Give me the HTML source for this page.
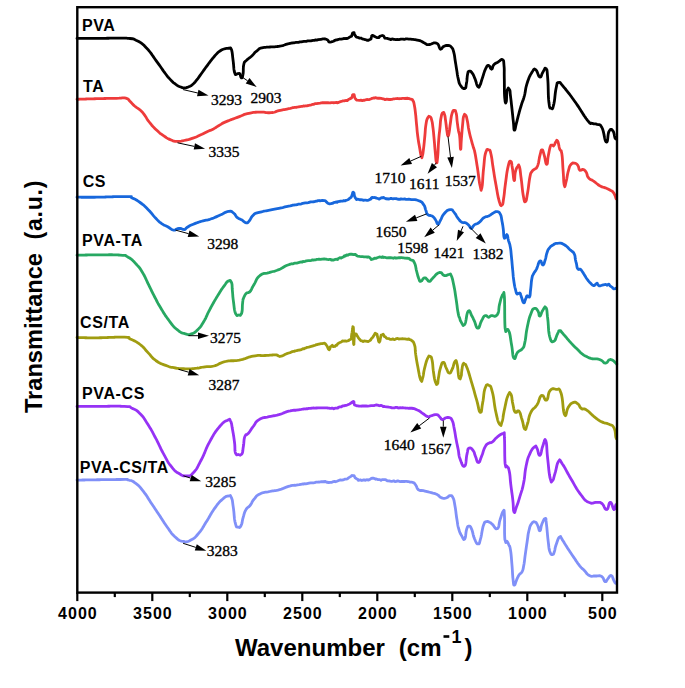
<!DOCTYPE html>
<html><head><meta charset="utf-8"><style>html,body{margin:0;padding:0;background:#fff;}svg{display:block;}</style></head><body>
<svg width="685" height="688" viewBox="0 0 685 688">
<rect x="0" y="0" width="685" height="688" fill="#fff"/>
<path d="M77.00,38.40 L77.97,38.40 L78.93,38.40 L79.88,38.40 L80.83,38.41 L81.80,38.41 L82.80,38.41 L83.84,38.42 L84.92,38.42 L86.07,38.42 L87.28,38.42 L88.58,38.42 L89.97,38.42 L91.47,38.42 L93.08,38.42 L94.82,38.41 L96.70,38.40 L98.53,38.39 L100.15,38.38 L101.58,38.36 L102.85,38.34 L104.00,38.32 L105.04,38.31 L106.00,38.29 L106.92,38.27 L107.82,38.25 L108.73,38.24 L109.68,38.22 L110.70,38.21 L111.81,38.20 L113.05,38.20 L114.43,38.20 L116.00,38.20 L118.21,38.20 L120.03,38.19 L121.53,38.18 L122.78,38.17 L123.85,38.16 L124.79,38.16 L125.68,38.18 L126.58,38.22 L127.55,38.28 L128.67,38.37 L130.00,38.50 L132.36,38.75 L133.49,38.93 L134.04,39.16 L134.66,39.54 L136.00,40.20 L137.60,40.91 L138.73,41.47 L139.66,42.03 L140.66,42.72 L142.00,43.70 L143.45,44.80 L144.20,45.50 L144.85,46.25 L146.00,47.50 L147.00,48.52 L147.63,49.14 L148.16,49.71 L148.86,50.55 L150.00,52.00 L150.90,53.18 L151.60,54.12 L152.17,54.94 L152.71,55.75 L153.32,56.65 L154.09,57.76 L155.10,59.20 L156.10,60.59 L156.82,61.61 L157.39,62.39 L157.91,63.11 L158.48,63.89 L159.20,64.91 L160.20,66.30 L161.20,67.71 L161.92,68.77 L162.49,69.62 L163.01,70.38 L163.58,71.19 L164.30,72.18 L165.30,73.50 L166.43,74.99 L167.23,76.02 L167.85,76.81 L168.47,77.54 L169.27,78.40 L170.40,79.60 L171.71,80.98 L172.58,81.88 L173.30,82.55 L174.18,83.24 L175.50,84.20 L177.13,85.33 L178.21,85.98 L179.24,86.44 L180.70,87.00 L182.35,87.65 L183.25,87.83 L184.70,87.80 L186.24,87.73 L187.25,87.47 L188.80,86.80 L190.06,86.26 L190.85,85.86 L191.64,85.28 L192.90,84.20 L193.96,83.25 L194.66,82.53 L195.24,81.84 L195.94,80.94 L197.00,79.60 L198.03,78.30 L198.68,77.43 L199.23,76.65 L199.94,75.62 L201.10,74.00 L202.01,72.73 L202.71,71.76 L203.28,70.94 L203.82,70.17 L204.43,69.32 L205.19,68.27 L206.20,66.90 L207.20,65.55 L207.92,64.56 L208.49,63.79 L209.01,63.11 L209.58,62.38 L210.30,61.45 L211.30,60.20 L212.46,58.73 L213.32,57.65 L214.00,56.79 L214.65,56.01 L215.41,55.17 L216.40,54.10 L217.91,52.51 L218.68,51.86 L220.00,51.00 L221.49,50.04 L222.51,49.54 L224.00,49.00 L225.50,48.54 L226.45,48.40 L227.60,48.30 L228.77,48.10 L229.60,48.30 L230.59,47.86 L231.50,49.60 L231.77,50.63 L231.99,51.59 L232.15,52.53 L232.29,53.49 L232.41,54.53 L232.54,55.71 L232.68,57.06 L232.87,58.64 L233.10,60.50 L233.33,62.38 L233.49,64.01 L233.62,65.43 L233.71,66.70 L233.81,67.86 L233.91,68.95 L234.05,70.02 L234.24,71.13 L234.50,72.30 L235.35,74.58 L236.50,74.30 L237.95,73.55 L239.40,73.30 L240.13,74.36 L240.53,75.80 L240.87,77.12 L241.40,77.80 L242.10,77.81 L242.51,76.85 L243.00,74.30 L243.18,73.00 L243.27,71.76 L243.30,70.57 L243.31,69.39 L243.33,68.21 L243.39,67.00 L243.54,65.74 L243.80,64.40 L244.40,62.22 L244.97,61.63 L246.30,60.50 L247.29,59.53 L248.04,58.94 L248.79,58.44 L249.76,57.73 L251.20,56.50 L252.28,55.47 L253.11,54.59 L253.78,53.81 L254.42,53.08 L255.13,52.33 L256.02,51.53 L257.20,50.60 L258.48,49.51 L258.99,48.90 L259.45,48.54 L260.58,48.22 L263.10,47.70 L264.39,47.47 L265.59,47.30 L266.74,47.17 L267.85,47.09 L268.93,47.03 L270.01,46.99 L271.10,46.95 L272.21,46.91 L273.37,46.86 L274.59,46.79 L275.89,46.67 L277.29,46.51 L278.80,46.30 L280.97,45.93 L282.49,45.59 L283.55,45.29 L284.34,45.00 L285.06,44.71 L285.90,44.41 L287.05,44.07 L288.70,43.70 L290.31,43.30 L291.34,43.02 L292.04,43.13 L292.62,42.80 L293.33,42.93 L294.39,42.75 L296.04,42.42 L298.50,42.30 L299.94,41.90 L301.30,41.90 L302.61,41.56 L303.86,41.40 L305.07,41.39 L306.25,41.42 L307.40,40.95 L308.54,40.85 L309.67,40.88 L310.81,40.88 L311.95,40.57 L313.12,40.35 L314.32,40.46 L315.56,39.90 L316.85,40.11 L318.20,39.71 L321.12,39.26 L322.82,38.96 L323.73,38.85 L324.29,39.02 L324.93,38.81 L326.10,39.24 L327.70,39.98 L328.34,40.82 L328.83,41.80 L330.00,42.10 L331.41,41.86 L332.40,41.52 L333.44,41.25 L335.00,40.33 L336.33,39.82 L336.97,39.89 L337.85,39.59 L339.90,39.02 L341.30,39.21 L342.58,38.96 L343.78,38.43 L344.93,38.62 L346.06,38.42 L347.21,38.48 L348.41,37.97 L349.70,37.01 L351.56,36.20 L352.29,33.98 L352.62,33.07 L353.30,32.73 L354.07,32.56 L354.29,34.22 L355.20,35.39 L356.06,36.71 L356.61,37.17 L357.55,37.30 L359.60,38.14 L360.97,38.05 L362.25,38.84 L363.46,39.17 L364.64,39.53 L365.80,39.71 L366.96,40.24 L368.15,40.36 L369.40,39.78 L371.01,39.01 L371.39,37.04 L371.52,36.23 L372.40,35.33 L373.69,35.80 L374.66,36.53 L375.73,37.06 L377.30,37.70 L378.80,37.67 L379.74,36.33 L380.69,35.99 L382.20,35.50 L383.46,35.91 L384.01,36.66 L384.90,38.23 L387.20,38.47 L388.59,38.82 L389.83,39.11 L390.97,39.62 L392.07,38.93 L393.18,39.24 L394.38,39.29 L395.70,39.56 L397.23,39.48 L399.00,39.53 L400.86,39.12 L402.22,39.16 L403.25,39.10 L404.09,39.29 L404.91,39.29 L405.86,38.92 L407.11,38.97 L408.80,39.08 L410.56,39.18 L411.97,39.37 L413.13,39.45 L414.14,39.53 L415.10,39.65 L416.11,39.82 L417.28,40.06 L418.70,40.40 L420.68,40.97 L421.84,41.47 L422.61,41.95 L423.39,42.48 L424.60,43.10 L426.07,44.02 L426.67,44.54 L428.50,44.70 L429.96,44.50 L431.24,44.01 L432.43,43.44 L433.63,42.97 L434.92,42.79 L436.40,43.10 L437.69,43.92 L438.49,45.03 L438.99,46.29 L439.37,47.53 L439.81,48.58 L440.50,49.30 L441.66,48.80 L443.00,46.80 L444.30,46.15 L445.39,45.71 L446.53,45.49 L448.00,45.50 L449.61,45.65 L450.49,46.13 L451.60,47.40 L452.46,48.44 L452.91,49.21 L453.26,50.33 L453.80,52.40 L454.15,53.80 L454.39,54.94 L454.56,55.94 L454.70,56.94 L454.84,58.06 L455.03,59.44 L455.30,61.20 L455.58,62.91 L455.78,64.15 L455.93,65.12 L456.07,66.00 L456.22,66.96 L456.42,68.20 L456.70,69.90 L456.97,71.63 L457.16,72.94 L457.30,73.99 L457.44,74.92 L457.61,75.90 L457.85,77.08 L458.20,78.60 L458.64,80.60 L458.90,81.93 L459.16,82.91 L459.60,83.89 L460.40,85.20 L461.57,86.91 L462.59,88.06 L463.59,88.60 L464.70,88.50 L465.56,87.93 L465.92,86.95 L466.12,85.37 L466.50,83.00 L466.77,81.49 L466.93,80.17 L467.04,78.99 L467.12,77.86 L467.21,76.75 L467.36,75.58 L467.60,74.30 L468.17,71.66 L469.10,71.10 L470.41,71.05 L472.00,72.80 L472.75,73.82 L473.24,74.65 L473.66,75.54 L474.15,76.78 L474.90,78.60 L475.48,80.11 L475.91,81.49 L476.26,82.74 L476.57,83.87 L476.90,84.89 L477.29,85.80 L477.80,86.60 L478.97,87.36 L480.00,85.20 L480.53,84.12 L480.84,83.25 L481.10,82.24 L481.49,80.80 L482.20,78.60 L482.67,77.19 L483.08,75.91 L483.44,74.74 L483.77,73.65 L484.09,72.62 L484.44,71.60 L484.82,70.58 L485.27,69.52 L485.80,68.40 L486.98,66.05 L487.65,65.38 L488.70,65.50 L489.84,66.60 L490.59,68.37 L491.60,69.20 L492.27,68.71 L492.55,67.66 L492.90,66.28 L493.80,64.80 L494.90,63.72 L495.79,63.13 L496.78,62.65 L498.20,61.90 L499.63,60.85 L500.64,59.93 L501.50,59.45 L502.50,59.70 L503.32,60.30 L503.65,61.07 L503.78,62.60 L504.00,65.50 L504.12,66.86 L504.20,67.98 L504.24,68.94 L504.26,69.83 L504.26,70.74 L504.25,71.75 L504.24,72.96 L504.24,74.44 L504.26,76.30 L504.30,78.60 L504.33,80.25 L504.35,81.79 L504.36,83.25 L504.37,84.61 L504.37,85.91 L504.38,87.15 L504.38,88.34 L504.38,89.49 L504.39,90.62 L504.41,91.73 L504.44,92.85 L504.48,93.97 L504.54,95.11 L504.61,96.28 L504.70,97.50 L505.17,101.83 L505.63,103.01 L506.20,101.90 L506.38,101.09 L506.49,100.02 L506.56,98.74 L506.60,97.31 L506.64,95.80 L506.70,94.27 L506.80,92.79 L506.96,91.41 L507.20,90.20 L508.35,88.02 L509.50,89.50 L509.88,90.29 L510.04,90.99 L510.11,91.96 L510.22,93.55 L510.50,96.10 L510.68,97.56 L510.84,98.81 L510.97,99.93 L511.09,100.98 L511.21,102.01 L511.33,103.10 L511.46,104.29 L511.61,105.67 L511.79,107.28 L512.00,109.20 L512.21,111.10 L512.38,112.69 L512.52,114.02 L512.64,115.17 L512.75,116.21 L512.85,117.21 L512.96,118.24 L513.08,119.37 L513.23,120.66 L513.40,122.20 L513.64,124.71 L513.77,126.67 L513.85,128.15 L513.94,129.19 L514.10,129.86 L514.40,130.20 L514.79,130.07 L515.09,129.25 L515.38,127.85 L515.76,125.97 L516.30,123.70 L516.69,122.21 L516.98,121.08 L517.20,120.16 L517.41,119.26 L517.66,118.22 L518.01,116.86 L518.50,115.00 L518.95,113.32 L519.31,111.99 L519.61,110.89 L519.88,109.90 L520.16,108.91 L520.49,107.81 L520.89,106.48 L521.40,104.80 L521.97,103.04 L522.38,101.89 L522.70,101.09 L523.00,100.38 L523.32,99.49 L523.73,98.15 L524.30,96.10 L524.67,94.63 L524.95,93.35 L525.16,92.23 L525.33,91.21 L525.48,90.25 L525.63,89.29 L525.80,88.30 L526.02,87.22 L526.31,86.01 L526.70,84.62 L527.20,83.00 L527.84,81.06 L528.40,79.45 L528.89,78.12 L529.35,76.99 L529.81,76.00 L530.28,75.08 L530.81,74.17 L531.40,73.20 L532.10,72.10 L533.58,69.61 L534.36,68.95 L535.70,69.70 L536.58,70.65 L537.25,72.03 L537.80,73.60 L538.34,75.11 L538.97,76.33 L539.80,77.00 L540.86,76.82 L541.45,75.64 L541.99,73.91 L542.90,72.10 L544.15,69.80 L544.99,68.21 L546.00,68.50 L546.41,69.01 L546.70,69.43 L546.90,69.91 L547.04,70.58 L547.16,71.60 L547.29,73.11 L547.46,75.26 L547.70,78.20 L547.81,79.54 L547.90,80.85 L547.97,82.13 L548.03,83.40 L548.08,84.64 L548.12,85.86 L548.15,87.07 L548.18,88.27 L548.21,89.45 L548.23,90.62 L548.26,91.79 L548.29,92.95 L548.32,94.10 L548.36,95.26 L548.42,96.42 L548.48,97.58 L548.56,98.74 L548.65,99.92 L548.77,101.10 L548.90,102.30 L549.40,105.94 L549.79,107.70 L550.18,108.22 L550.65,108.20 L551.30,108.30 L552.20,108.87 L552.78,108.21 L553.70,104.70 L553.96,103.53 L554.18,102.35 L554.37,101.18 L554.54,99.99 L554.69,98.81 L554.82,97.62 L554.95,96.42 L555.08,95.22 L555.21,94.00 L555.36,92.78 L555.53,91.55 L555.72,90.31 L555.94,89.06 L556.20,87.80 L556.86,84.52 L557.17,83.05 L557.60,82.63 L558.60,82.50 L559.41,82.30 L559.83,82.28 L560.33,82.78 L561.36,84.12 L563.40,86.60 L564.20,87.55 L564.94,88.42 L565.62,89.24 L566.26,90.02 L566.87,90.77 L567.47,91.52 L568.07,92.28 L568.67,93.06 L569.30,93.89 L569.96,94.78 L570.67,95.74 L571.44,96.80 L572.29,97.97 L573.22,99.26 L574.26,100.70 L575.40,102.30 L576.42,103.75 L577.36,105.10 L578.21,106.36 L579.00,107.55 L579.72,108.66 L580.39,109.71 L581.02,110.70 L581.61,111.65 L582.17,112.56 L582.72,113.44 L583.25,114.29 L583.79,115.13 L584.33,115.96 L584.90,116.79 L585.49,117.64 L586.11,118.50 L586.78,119.38 L587.50,120.30 L589.79,123.00 L590.63,123.55 L591.10,123.25 L592.30,123.40 L593.77,123.86 L594.70,123.90 L595.63,123.94 L597.10,124.40 L598.59,124.69 L599.54,124.60 L600.48,125.19 L601.90,127.50 L602.47,128.75 L602.94,130.14 L603.35,131.61 L603.70,133.13 L604.02,134.65 L604.30,136.14 L604.57,137.55 L604.85,138.85 L605.15,139.98 L605.48,140.91 L605.86,141.60 L606.30,142.00 L606.84,141.99 L607.23,141.38 L607.49,140.31 L607.69,138.89 L607.85,137.27 L608.03,135.56 L608.27,133.89 L608.61,132.40 L609.10,131.20 L610.47,129.30 L611.50,129.31 L612.80,130.70 L613.47,131.80 L613.93,133.12 L614.24,134.54 L614.50,135.97 L614.79,137.29 L615.20,138.40 L616.09,138.97 L616.50,138.00" fill="none" stroke="#000000" stroke-width="2.8" stroke-linejoin="round" stroke-linecap="round"/>
<path d="M77.00,99.30 L77.97,99.27 L78.92,99.24 L79.87,99.21 L80.82,99.18 L81.78,99.14 L82.77,99.11 L83.80,99.08 L84.88,99.04 L86.02,99.00 L87.23,98.96 L88.53,98.93 L89.93,98.88 L91.43,98.84 L93.05,98.80 L94.81,98.75 L96.70,98.70 L98.57,98.65 L100.24,98.61 L101.75,98.58 L103.12,98.54 L104.36,98.52 L105.50,98.49 L106.57,98.47 L107.58,98.45 L108.56,98.43 L109.53,98.41 L110.51,98.40 L111.53,98.38 L112.60,98.36 L113.76,98.34 L115.02,98.32 L116.40,98.30 L119.17,98.21 L121.01,98.07 L122.20,97.93 L123.00,97.83 L123.68,97.81 L124.53,97.92 L125.80,98.20 L127.71,98.81 L128.50,99.45 L129.04,100.31 L130.20,101.60 L131.30,102.63 L131.98,103.38 L132.55,104.05 L133.32,104.85 L134.60,106.00 L135.79,106.95 L136.71,107.59 L137.50,108.08 L138.29,108.59 L139.21,109.27 L140.40,110.30 L141.68,111.49 L142.45,112.28 L143.02,112.98 L143.70,113.91 L144.80,115.40 L145.72,116.70 L146.29,117.63 L146.71,118.41 L147.19,119.25 L147.95,120.38 L149.20,122.00 L150.14,123.18 L150.93,124.15 L151.61,124.98 L152.25,125.72 L152.88,126.42 L153.57,127.14 L154.37,127.94 L155.33,128.88 L156.50,130.00 L157.93,131.35 L158.97,132.32 L159.78,133.04 L160.52,133.63 L161.33,134.21 L162.37,134.93 L163.80,135.90 L165.45,137.03 L166.65,137.82 L167.60,138.40 L168.52,138.88 L169.62,139.37 L171.10,140.00 L172.99,140.82 L174.00,141.20 L175.01,141.33 L176.90,141.40 L178.36,141.44 L179.39,141.42 L180.25,141.33 L181.18,141.15 L182.41,140.88 L184.20,140.50 L185.81,140.17 L187.07,139.89 L188.11,139.64 L189.09,139.37 L190.13,139.05 L191.39,138.64 L193.00,138.10 L194.76,137.50 L195.94,137.07 L196.80,136.72 L197.63,136.34 L198.71,135.83 L200.30,135.10 L201.95,134.34 L203.15,133.75 L204.10,133.26 L205.02,132.78 L206.12,132.22 L207.60,131.50 L209.23,130.76 L210.20,130.38 L210.94,130.10 L211.86,129.69 L213.40,128.90 L214.81,128.12 L215.86,127.50 L216.72,126.94 L217.58,126.38 L218.61,125.72 L220.00,124.90 L221.34,124.08 L221.89,123.68 L222.33,123.37 L223.34,122.88 L225.60,121.90 L226.85,121.37 L228.02,120.89 L229.12,120.45 L230.19,120.03 L231.23,119.63 L232.27,119.24 L233.32,118.85 L234.40,118.45 L235.53,118.04 L236.73,117.60 L238.01,117.12 L239.40,116.60 L241.38,115.81 L242.58,115.28 L243.28,114.92 L243.81,114.66 L244.45,114.42 L245.51,114.12 L247.30,113.70 L248.88,113.34 L250.18,113.04 L251.29,112.81 L252.30,112.63 L253.31,112.48 L254.40,112.37 L255.67,112.27 L257.20,112.19 L259.10,112.10 L261.00,112.06 L262.55,112.11 L263.83,112.22 L264.93,112.36 L265.96,112.52 L266.98,112.65 L268.11,112.74 L269.42,112.77 L271.00,112.70 L273.07,112.50 L274.31,112.25 L275.10,111.96 L275.85,111.61 L276.95,111.19 L278.80,110.70 L280.37,110.35 L281.60,110.08 L282.62,109.87 L283.55,109.69 L284.50,109.51 L285.60,109.30 L286.96,109.04 L288.70,108.70 L290.41,108.39 L291.71,108.01 L292.72,107.70 L293.60,107.66 L294.48,107.47 L295.49,107.35 L296.79,107.25 L298.50,106.87 L300.22,106.53 L301.52,106.38 L302.56,106.27 L303.45,105.95 L304.34,106.15 L305.38,105.98 L306.68,105.82 L308.40,105.50 L310.14,105.04 L311.48,104.77 L312.56,104.41 L313.50,104.37 L314.41,103.95 L315.42,103.73 L316.64,103.55 L318.20,103.28 L320.11,103.07 L321.35,102.82 L322.24,102.73 L323.11,102.75 L324.29,102.71 L326.10,102.75 L327.81,102.60 L329.18,102.91 L330.33,102.90 L331.36,102.62 L332.41,102.72 L333.58,102.77 L335.00,102.70 L336.77,102.40 L337.36,102.80 L338.00,102.67 L339.90,101.78 L341.30,101.48 L342.58,100.97 L343.78,100.79 L344.93,100.76 L346.06,100.46 L347.21,100.52 L348.41,99.59 L349.70,98.87 L351.55,97.98 L352.25,96.18 L352.58,94.76 L353.30,94.53 L354.09,94.57 L354.41,96.04 L354.75,97.78 L355.60,99.05 L356.57,100.03 L357.30,100.12 L359.60,100.31 L360.93,100.17 L362.17,100.55 L363.35,100.27 L364.50,100.30 L365.65,99.79 L366.83,99.50 L368.07,99.67 L369.40,99.54 L371.37,98.80 L371.78,98.27 L373.40,98.02 L374.78,97.98 L375.89,97.74 L376.91,98.13 L378.02,98.25 L379.39,98.26 L381.20,98.47 L382.80,98.81 L383.70,98.92 L384.35,99.31 L385.17,99.55 L386.61,99.20 L389.10,99.51 L390.51,99.51 L391.85,99.43 L393.11,98.96 L394.33,98.78 L395.50,98.71 L396.64,98.60 L397.76,98.52 L398.88,98.73 L400.02,98.71 L401.17,98.63 L402.36,98.45 L403.60,98.47 L404.90,98.50 L407.96,98.26 L409.20,98.54 L409.77,98.84 L410.80,99.20 L412.42,99.71 L413.10,101.00 L413.68,102.05 L413.91,102.93 L414.30,105.10 L414.57,106.48 L414.76,107.51 L414.91,108.45 L415.06,109.56 L415.24,111.09 L415.50,113.30 L415.68,114.88 L415.82,116.18 L415.92,117.28 L416.01,118.27 L416.09,119.26 L416.18,120.32 L416.28,121.55 L416.42,123.05 L416.60,124.90 L416.78,126.73 L416.91,128.18 L417.01,129.35 L417.10,130.34 L417.18,131.27 L417.28,132.25 L417.41,133.37 L417.58,134.75 L417.80,136.50 L418.06,138.43 L418.26,139.88 L418.43,141.02 L418.59,141.98 L418.76,142.91 L418.95,143.96 L419.19,145.27 L419.50,147.00 L419.85,149.06 L420.13,150.75 L420.36,152.15 L420.56,153.33 L420.77,154.37 L421.01,155.33 L421.30,156.30 L421.91,157.69 L422.40,155.70 L422.66,154.73 L422.84,153.90 L422.99,153.00 L423.14,151.86 L423.33,150.29 L423.60,148.10 L423.79,146.56 L423.94,145.28 L424.06,144.19 L424.16,143.19 L424.26,142.20 L424.36,141.12 L424.47,139.87 L424.62,138.36 L424.80,136.50 L424.97,134.64 L425.10,133.11 L425.19,131.85 L425.26,130.75 L425.32,129.74 L425.41,128.74 L425.52,127.65 L425.68,126.40 L425.90,124.90 L426.23,122.81 L426.47,121.37 L426.68,120.36 L426.92,119.58 L427.24,118.83 L427.70,117.90 L428.86,116.25 L430.00,116.70 L430.74,117.26 L431.15,118.18 L431.70,120.20 L432.06,121.53 L432.27,122.45 L432.42,123.40 L432.60,124.84 L432.90,127.20 L433.09,128.69 L433.24,129.91 L433.36,130.97 L433.46,131.94 L433.56,132.92 L433.66,134.00 L433.77,135.28 L433.92,136.85 L434.10,138.80 L434.26,140.57 L434.39,142.03 L434.49,143.26 L434.58,144.33 L434.65,145.31 L434.72,146.28 L434.81,147.32 L434.91,148.51 L435.04,149.91 L435.20,151.60 L435.40,153.77 L435.56,155.64 L435.68,157.24 L435.79,158.60 L435.90,159.74 L436.03,160.68 L436.19,161.46 L436.40,162.10 L436.77,162.85 L437.01,162.54 L437.24,160.84 L437.60,157.40 L437.72,156.17 L437.82,154.99 L437.91,153.84 L437.98,152.73 L438.04,151.62 L438.10,150.51 L438.15,149.39 L438.20,148.24 L438.26,147.05 L438.32,145.80 L438.39,144.49 L438.48,143.09 L438.58,141.60 L438.70,140.00 L438.88,137.76 L439.03,136.10 L439.15,134.87 L439.25,133.92 L439.35,133.12 L439.45,132.31 L439.57,131.35 L439.72,130.10 L439.90,128.40 L440.09,126.43 L440.22,124.86 L440.31,123.59 L440.39,122.51 L440.47,121.51 L440.59,120.48 L440.76,119.31 L441.00,117.90 L441.48,115.45 L441.84,114.08 L442.23,113.32 L442.80,112.70 L443.71,112.33 L444.50,114.40 L444.86,115.60 L445.07,116.61 L445.22,117.73 L445.40,119.23 L445.70,121.40 L445.94,123.08 L446.11,124.47 L446.25,125.67 L446.37,126.78 L446.51,127.93 L446.67,129.20 L446.90,130.70 L447.24,133.10 L447.45,134.63 L447.66,135.50 L448.00,135.90 L448.45,135.73 L448.75,134.45 L449.20,131.90 L449.44,130.51 L449.59,129.43 L449.69,128.44 L449.81,127.31 L449.99,125.80 L450.30,123.70 L450.55,121.98 L450.75,120.48 L450.92,119.17 L451.08,117.98 L451.25,116.85 L451.47,115.73 L451.74,114.57 L452.10,113.30 L452.94,110.93 L453.56,110.28 L454.40,110.30 L455.42,110.57 L456.20,113.30 L456.47,114.60 L456.65,115.77 L456.76,116.88 L456.85,118.02 L456.95,119.30 L457.09,120.80 L457.30,122.60 L457.56,124.55 L457.74,125.94 L457.89,127.00 L458.04,127.98 L458.23,129.14 L458.50,130.70 L458.88,132.47 L459.13,133.13 L459.37,134.02 L459.70,136.50 L459.85,138.05 L459.97,139.68 L460.06,141.34 L460.13,142.97 L460.19,144.53 L460.25,145.96 L460.31,147.20 L460.39,148.21 L460.48,148.93 L460.60,149.30 L460.74,149.29 L460.84,148.83 L460.91,147.96 L460.97,146.72 L461.03,145.14 L461.11,143.27 L461.23,141.14 L461.40,138.80 L461.53,137.15 L461.65,135.70 L461.75,134.42 L461.84,133.27 L461.93,132.19 L462.01,131.15 L462.10,130.10 L462.20,128.99 L462.31,127.78 L462.45,126.44 L462.60,124.90 L462.81,122.66 L462.95,121.00 L463.05,119.78 L463.14,118.83 L463.25,118.03 L463.43,117.20 L463.70,116.20 L464.54,114.21 L465.50,115.00 L466.03,115.67 L466.35,116.43 L466.67,117.77 L467.20,120.20 L467.50,121.64 L467.72,122.86 L467.89,123.97 L468.04,125.04 L468.20,126.16 L468.39,127.42 L468.65,128.90 L469.00,130.70 L469.41,132.63 L469.72,134.04 L469.98,135.12 L470.22,136.05 L470.50,137.05 L470.84,138.30 L471.30,140.00 L471.76,141.73 L472.12,143.05 L472.42,144.08 L472.68,144.96 L472.94,145.84 L473.23,146.84 L473.60,148.10 L474.13,149.56 L474.31,149.79 L474.90,152.60 L475.13,153.78 L475.33,154.85 L475.51,155.84 L475.67,156.79 L475.83,157.72 L475.99,158.66 L476.15,159.65 L476.32,160.72 L476.50,161.90 L476.71,163.21 L476.94,164.70 L477.20,166.38 L477.50,168.30 L477.78,170.12 L478.02,171.79 L478.23,173.33 L478.42,174.75 L478.58,176.06 L478.74,177.29 L478.88,178.45 L479.02,179.55 L479.16,180.61 L479.31,181.64 L479.48,182.66 L479.66,183.68 L479.87,184.72 L480.10,185.80 L481.09,190.32 L481.90,187.50 L482.06,186.62 L482.20,185.72 L482.32,184.79 L482.42,183.84 L482.50,182.85 L482.58,181.83 L482.65,180.76 L482.72,179.64 L482.79,178.47 L482.86,177.23 L482.94,175.94 L483.04,174.57 L483.15,173.13 L483.27,171.61 L483.42,170.00 L483.60,168.30 L483.81,166.29 L483.98,164.52 L484.13,162.96 L484.24,161.60 L484.35,160.39 L484.45,159.30 L484.55,158.30 L484.67,157.37 L484.80,156.47 L484.96,155.58 L485.16,154.65 L485.40,153.67 L485.70,152.60 L486.84,149.66 L487.76,149.39 L488.90,150.00 L489.82,150.23 L490.26,151.12 L491.00,154.30 L491.28,155.55 L491.51,156.66 L491.69,157.68 L491.84,158.66 L491.98,159.65 L492.12,160.69 L492.26,161.83 L492.43,163.11 L492.63,164.58 L492.89,166.30 L493.20,168.30 L493.47,169.98 L493.69,171.39 L493.88,172.58 L494.03,173.61 L494.17,174.52 L494.30,175.38 L494.44,176.23 L494.58,177.11 L494.75,178.10 L494.94,179.22 L495.17,180.55 L495.46,182.12 L495.80,184.00 L496.13,185.81 L496.42,187.46 L496.68,188.97 L496.92,190.36 L497.13,191.64 L497.34,192.84 L497.54,193.97 L497.74,195.05 L497.95,196.10 L498.17,197.13 L498.41,198.17 L498.67,199.23 L498.97,200.34 L499.30,201.50 L500.47,205.10 L501.15,205.75 L502.00,205.00 L502.47,204.55 L502.76,204.01 L502.95,203.25 L503.12,202.10 L503.34,200.40 L503.70,198.00 L503.92,196.60 L504.08,195.41 L504.21,194.38 L504.32,193.43 L504.41,192.51 L504.50,191.55 L504.60,190.49 L504.73,189.27 L504.90,187.82 L505.12,186.09 L505.40,184.00 L505.64,182.29 L505.84,180.72 L506.03,179.28 L506.20,177.95 L506.36,176.71 L506.51,175.54 L506.66,174.43 L506.81,173.35 L506.98,172.29 L507.15,171.23 L507.35,170.15 L507.57,169.03 L507.82,167.85 L508.10,166.60 L508.94,163.15 L509.50,161.51 L510.01,161.09 L510.70,161.30 L511.16,161.62 L511.44,162.18 L511.63,163.05 L511.80,164.31 L512.03,166.04 L512.40,168.30 L512.66,169.86 L512.87,171.45 L513.05,173.02 L513.21,174.54 L513.35,175.97 L513.49,177.28 L513.63,178.42 L513.80,179.36 L513.98,180.07 L514.20,180.50 L514.47,180.51 L514.62,179.83 L514.71,178.63 L514.79,177.07 L514.89,175.31 L515.08,173.50 L515.40,171.80 L516.00,169.62 L516.50,168.33 L517.02,167.48 L517.70,166.60 L518.60,164.86 L519.40,166.60 L519.65,167.52 L519.84,168.36 L520.00,169.18 L520.13,170.03 L520.25,170.96 L520.37,172.03 L520.52,173.30 L520.69,174.81 L520.92,176.63 L521.20,178.80 L521.41,180.43 L521.60,181.93 L521.76,183.33 L521.90,184.64 L522.03,185.88 L522.15,187.06 L522.27,188.19 L522.39,189.30 L522.51,190.39 L522.65,191.48 L522.80,192.60 L522.97,193.74 L523.17,194.94 L523.40,196.20 L524.05,199.71 L524.46,201.47 L524.86,201.92 L525.50,201.50 L525.91,201.06 L526.20,200.49 L526.43,199.70 L526.63,198.61 L526.87,197.14 L527.17,195.20 L527.60,192.70 L527.85,191.24 L528.07,189.87 L528.26,188.58 L528.42,187.36 L528.57,186.18 L528.71,185.04 L528.85,183.92 L528.98,182.82 L529.13,181.71 L529.29,180.59 L529.46,179.44 L529.67,178.25 L529.90,177.00 L530.48,174.15 L530.78,173.13 L531.09,172.77 L531.70,171.90 L532.80,170.47 L534.20,169.40 L535.40,168.70 L536.30,168.29 L537.50,166.10 L537.95,164.87 L538.30,163.70 L538.57,162.56 L538.78,161.43 L538.97,160.29 L539.16,159.12 L539.38,157.89 L539.65,156.59 L540.00,155.20 L540.66,152.52 L541.03,150.87 L541.38,150.03 L542.00,149.80 L542.64,150.10 L543.05,151.04 L543.49,152.71 L544.20,155.20 L544.67,156.94 L545.05,158.73 L545.36,160.46 L545.64,162.00 L545.93,163.26 L546.27,164.09 L546.70,164.40 L547.09,164.16 L547.33,163.47 L547.49,162.39 L547.61,160.97 L547.77,159.26 L548.01,157.32 L548.40,155.20 L548.77,153.40 L549.08,151.82 L549.33,150.43 L549.57,149.20 L549.82,148.09 L550.10,147.08 L550.46,146.12 L550.90,145.20 L552.15,145.02 L553.40,146.00 L554.20,145.15 L554.73,144.06 L555.22,142.89 L555.90,141.80 L556.78,140.15 L557.60,141.00 L557.99,141.91 L558.30,142.94 L558.55,144.06 L558.79,145.26 L559.06,146.55 L559.38,147.90 L559.80,149.30 L560.62,150.63 L561.14,150.66 L561.80,153.50 L561.97,154.66 L562.11,155.75 L562.23,156.79 L562.33,157.80 L562.40,158.79 L562.47,159.79 L562.53,160.82 L562.59,161.89 L562.64,163.02 L562.70,164.24 L562.78,165.56 L562.86,166.99 L562.97,168.57 L563.10,170.30 L563.25,172.32 L563.37,174.14 L563.46,175.78 L563.54,177.26 L563.60,178.60 L563.66,179.81 L563.72,180.91 L563.79,181.91 L563.88,182.83 L563.99,183.69 L564.13,184.51 L564.30,185.30 L564.84,186.72 L565.23,185.33 L566.00,182.00 L566.34,180.70 L566.61,179.45 L566.85,178.23 L567.06,177.02 L567.28,175.79 L567.51,174.53 L567.78,173.21 L568.10,171.81 L568.50,170.30 L569.12,168.07 L569.51,166.74 L569.84,165.94 L570.27,165.29 L571.00,164.40 L572.56,163.01 L574.30,163.20 L575.65,163.39 L576.56,163.89 L577.70,165.20 L578.46,166.64 L578.80,168.04 L579.12,169.30 L579.80,170.30 L581.13,170.11 L582.70,169.40 L583.95,169.74 L584.82,170.35 L586.00,171.90 L586.66,173.14 L586.96,174.24 L587.19,175.31 L587.61,176.46 L588.50,177.80 L589.51,178.87 L590.26,179.38 L591.03,179.69 L592.06,180.14 L593.60,181.10 L594.97,182.11 L596.04,182.98 L596.96,183.76 L597.88,184.50 L598.94,185.26 L600.30,186.10 L602.02,186.96 L602.97,187.20 L603.83,187.31 L605.30,187.80 L606.89,188.48 L607.97,188.97 L608.96,189.50 L610.30,190.30 L611.80,191.04 L612.55,191.45 L613.60,192.80 L614.39,194.12 L614.96,195.39 L615.38,196.59 L615.73,197.70 L616.10,198.70" fill="none" stroke="#EE3B3B" stroke-width="2.8" stroke-linejoin="round" stroke-linecap="round"/>
<path d="M77.00,197.20 L77.94,197.20 L78.82,197.21 L79.64,197.21 L80.45,197.22 L81.25,197.23 L82.08,197.24 L82.95,197.25 L83.89,197.26 L84.92,197.27 L86.07,197.27 L87.36,197.27 L88.81,197.27 L90.45,197.26 L92.29,197.25 L94.37,197.23 L96.70,197.20 L98.31,197.18 L99.86,197.15 L101.36,197.12 L102.80,197.09 L104.19,197.05 L105.54,197.01 L106.85,196.97 L108.11,196.93 L109.35,196.88 L110.55,196.84 L111.73,196.80 L112.88,196.76 L114.01,196.72 L115.13,196.69 L116.24,196.65 L117.34,196.63 L118.44,196.60 L119.53,196.58 L120.63,196.57 L121.73,196.56 L122.85,196.56 L123.98,196.56 L125.13,196.58 L126.30,196.60 L130.20,196.68 L131.41,196.73 L131.26,196.89 L131.08,197.27 L132.20,198.00 L133.58,198.59 L134.64,199.05 L135.53,199.47 L136.38,199.95 L137.33,200.55 L138.53,201.38 L140.10,202.50 L141.48,203.50 L142.52,204.27 L143.35,204.91 L144.06,205.51 L144.77,206.17 L145.59,206.97 L146.63,208.02 L148.00,209.40 L149.25,210.69 L150.25,211.79 L151.07,212.74 L151.77,213.60 L152.42,214.42 L153.08,215.25 L153.82,216.14 L154.71,217.14 L155.80,218.30 L157.29,219.85 L158.25,220.85 L158.93,221.52 L159.57,222.06 L160.41,222.68 L161.70,223.60 L163.24,224.64 L164.27,225.21 L165.13,225.58 L166.16,226.02 L167.70,226.80 L169.28,227.76 L170.40,228.56 L171.31,229.22 L172.29,229.73 L173.60,230.10 L175.30,230.05 L176.13,229.34 L177.50,228.70 L179.06,228.47 L180.11,228.50 L181.50,228.70 L183.05,229.45 L184.40,229.70 L185.35,229.20 L185.92,228.41 L187.40,227.20 L188.52,226.49 L189.30,226.00 L190.10,225.57 L191.31,225.03 L193.30,224.20 L194.74,223.62 L195.98,223.13 L197.07,222.72 L198.11,222.35 L199.16,222.00 L200.29,221.64 L201.58,221.25 L203.10,220.80 L205.08,220.28 L206.13,220.13 L206.87,220.09 L207.92,219.89 L209.90,219.30 L211.39,218.79 L212.60,218.35 L213.63,217.95 L214.59,217.54 L215.57,217.10 L216.69,216.61 L218.03,216.02 L219.70,215.30 L221.36,214.55 L222.68,213.89 L223.74,213.30 L224.64,212.79 L225.48,212.35 L226.36,211.97 L227.37,211.66 L228.60,211.40 L230.59,211.16 L231.55,211.34 L232.26,211.95 L233.50,213.00 L234.60,213.96 L235.28,214.87 L235.79,215.76 L236.41,216.69 L237.40,217.70 L238.85,218.71 L239.78,218.97 L241.40,219.70 L242.87,220.72 L243.95,221.65 L244.98,222.38 L246.30,222.80 L247.61,222.86 L248.17,222.27 L249.30,220.80 L250.16,219.68 L250.72,218.65 L251.23,217.63 L251.97,216.54 L253.20,215.30 L254.16,214.31 L254.44,213.84 L254.83,213.57 L256.12,213.19 L259.10,212.40 L260.36,212.07 L261.58,211.77 L262.78,211.49 L263.95,211.23 L265.10,211.00 L266.25,210.77 L267.40,210.55 L268.55,210.34 L269.71,210.13 L270.90,209.92 L272.11,209.70 L273.35,209.48 L274.64,209.24 L275.97,208.98 L277.35,208.70 L278.80,208.40 L281.17,207.88 L282.57,207.55 L283.32,207.35 L283.75,207.21 L284.18,207.08 L284.93,206.89 L286.33,206.58 L288.70,206.10 L290.12,205.93 L291.45,205.54 L292.68,205.17 L293.85,205.21 L294.97,204.79 L296.05,204.80 L297.11,204.68 L298.16,204.22 L299.23,204.03 L300.32,204.08 L301.46,203.78 L302.66,203.32 L303.94,203.08 L305.31,202.86 L306.79,202.95 L308.40,202.64 L310.63,201.96 L312.48,201.95 L314.02,201.75 L315.30,201.38 L316.39,201.05 L317.34,200.99 L318.22,200.68 L319.09,200.52 L320.00,200.86 L321.02,200.64 L322.20,200.51 L324.90,200.63 L325.32,200.75 L326.10,201.67 L327.17,202.61 L327.68,203.23 L329.10,203.79 L330.35,203.74 L331.37,203.49 L332.36,203.45 L333.51,202.72 L335.00,202.43 L336.43,201.83 L337.06,202.39 L337.89,201.69 L339.90,201.26 L341.30,201.07 L342.58,201.17 L343.78,200.60 L344.93,200.91 L346.06,200.32 L347.21,200.02 L348.41,199.49 L349.70,198.27 L351.11,197.34 L351.90,195.71 L352.29,194.19 L352.51,193.73 L352.77,192.31 L353.30,192.18 L353.98,192.87 L354.17,194.15 L354.40,195.80 L355.20,197.72 L356.06,198.83 L356.61,199.51 L357.55,199.09 L359.60,199.75 L360.97,199.65 L362.25,199.81 L363.46,200.35 L364.64,200.15 L365.80,200.18 L366.96,200.28 L368.15,200.28 L369.40,199.65 L371.11,198.95 L371.21,197.90 L372.40,197.31 L373.88,197.52 L375.22,197.63 L376.50,198.16 L377.83,198.51 L379.30,199.10 L380.75,198.18 L382.20,197.64 L383.24,197.79 L383.71,197.42 L384.36,198.03 L385.91,198.75 L389.10,199.01 L390.40,198.46 L391.66,198.52 L392.88,198.86 L394.06,198.56 L395.22,198.73 L396.37,198.60 L397.51,199.15 L398.65,199.26 L399.80,199.36 L400.97,198.86 L402.16,199.13 L403.39,199.13 L404.66,198.93 L405.98,199.32 L407.36,199.42 L408.80,199.17 L411.33,199.66 L413.12,199.55 L414.36,199.60 L415.23,199.67 L415.91,199.78 L416.60,199.96 L417.47,200.26 L418.70,200.70 L420.55,201.42 L421.60,202.00 L422.22,202.61 L422.76,203.42 L423.60,204.60 L424.54,206.01 L424.89,207.00 L425.10,208.04 L425.60,209.60 L426.18,211.26 L426.51,212.45 L426.89,213.44 L427.60,214.50 L428.95,215.33 L430.50,215.50 L432.00,215.97 L433.50,217.10 L434.45,218.17 L435.09,219.12 L435.66,220.14 L436.40,221.40 L437.25,223.67 L438.00,224.30 L438.72,223.81 L439.27,222.63 L440.40,220.40 L441.09,219.09 L441.58,217.97 L442.00,216.95 L442.50,215.93 L443.22,214.81 L444.30,213.50 L445.66,212.01 L446.75,210.96 L447.74,210.26 L448.82,209.83 L450.20,209.60 L451.64,209.61 L452.40,210.07 L453.06,211.02 L454.20,212.50 L455.21,213.76 L455.88,214.83 L456.44,215.86 L457.10,217.00 L458.10,218.40 L459.34,219.99 L460.18,220.98 L460.95,221.69 L462.00,222.40 L463.45,222.73 L464.60,222.50 L465.81,222.87 L467.00,223.70 L468.30,224.78 L469.50,226.10 L470.41,227.90 L471.40,228.50 L472.26,227.78 L472.92,226.47 L474.30,224.90 L475.56,224.12 L476.51,223.82 L477.56,223.46 L479.10,222.50 L480.34,221.43 L481.16,220.48 L481.84,219.59 L482.66,218.68 L483.90,217.70 L485.37,216.88 L486.30,216.68 L487.23,216.56 L488.70,216.00 L490.21,215.14 L491.22,214.40 L492.17,213.69 L493.50,212.90 L495.03,212.01 L495.86,211.61 L497.10,211.70 L498.45,211.90 L499.29,212.41 L500.30,214.10 L500.83,215.26 L501.15,216.25 L501.35,217.22 L501.51,218.30 L501.70,219.61 L502.00,221.30 L502.31,222.85 L502.51,223.87 L502.65,224.65 L502.78,225.48 L502.94,226.67 L503.20,228.50 L503.40,230.14 L503.52,231.69 L503.61,233.12 L503.68,234.43 L503.77,235.60 L503.90,236.63 L504.10,237.50 L504.40,238.20 L505.21,237.85 L505.91,235.61 L506.80,234.60 L507.31,235.15 L507.60,236.04 L507.81,237.24 L508.07,238.77 L508.50,240.60 L508.97,242.11 L509.31,242.99 L509.59,243.76 L509.90,244.93 L510.30,247.00 L510.55,248.48 L510.74,249.64 L510.86,250.63 L510.96,251.56 L511.05,252.57 L511.16,253.79 L511.30,255.36 L511.50,257.40 L511.67,259.09 L511.81,260.51 L511.93,261.72 L512.02,262.79 L512.11,263.79 L512.20,264.79 L512.29,265.86 L512.40,267.08 L512.53,268.50 L512.70,270.20 L512.89,272.22 L513.02,273.72 L513.11,274.86 L513.19,275.80 L513.27,276.70 L513.39,277.71 L513.56,278.99 L513.80,280.70 L514.09,282.69 L514.33,284.23 L514.54,285.45 L514.74,286.50 L514.97,287.52 L515.25,288.64 L515.60,290.00 L516.21,292.48 L516.58,293.49 L517.30,294.10 L518.50,293.50 L519.70,292.90 L520.39,293.72 L520.73,294.94 L521.40,297.00 L521.94,298.56 L522.36,300.01 L522.73,301.25 L523.14,302.21 L523.70,302.80 L524.45,302.58 L524.86,301.17 L525.50,299.30 L526.12,297.70 L526.49,296.57 L527.20,295.80 L528.40,296.87 L529.50,297.00 L529.87,296.09 L530.08,295.15 L530.21,294.06 L530.31,292.72 L530.45,291.00 L530.70,288.80 L530.90,287.09 L531.05,285.65 L531.16,284.39 L531.25,283.25 L531.35,282.15 L531.48,281.03 L531.65,279.80 L531.90,278.40 L532.32,276.32 L532.58,275.47 L532.93,274.91 L533.60,273.70 L534.33,272.41 L534.87,271.75 L535.50,270.91 L536.50,269.10 L537.14,267.63 L537.64,266.17 L538.06,264.78 L538.44,263.51 L538.86,262.41 L539.36,261.52 L540.00,260.90 L540.98,261.12 L541.57,262.65 L542.10,264.33 L542.90,265.00 L543.69,264.52 L544.16,263.51 L544.57,261.94 L545.20,259.80 L545.64,258.37 L545.91,257.23 L546.10,256.25 L546.29,255.28 L546.56,254.18 L547.00,252.80 L547.58,251.05 L547.92,250.09 L548.37,249.31 L549.30,248.10 L550.36,246.84 L551.18,246.07 L552.09,245.47 L553.40,244.70 L554.80,243.80 L555.66,243.44 L557.40,243.30 L558.71,243.17 L559.65,243.03 L560.54,243.05 L561.68,243.39 L563.40,244.20 L564.76,244.98 L565.86,245.75 L566.80,246.53 L567.67,247.34 L568.53,248.21 L569.48,249.16 L570.60,250.20 L572.19,251.47 L572.99,251.98 L573.49,252.50 L574.20,253.80 L574.78,255.18 L575.04,256.30 L575.14,257.35 L575.24,258.52 L575.50,260.00 L575.96,261.92 L576.24,262.94 L576.60,264.40 L576.86,265.98 L576.96,266.94 L577.30,268.00 L577.98,269.15 L578.80,269.50 L579.43,269.19 L580.20,269.10 L581.22,270.00 L582.40,271.70 L583.19,272.89 L583.69,273.79 L584.60,275.30 L585.41,276.60 L585.98,277.53 L586.59,278.45 L587.50,279.70 L588.59,281.12 L589.29,281.91 L590.40,283.00 L591.59,284.23 L592.40,284.98 L593.40,285.50 L594.43,285.56 L595.20,284.80 L596.15,283.84 L596.90,283.20 L597.32,283.31 L597.70,284.10 L598.24,285.16 L599.20,285.90 L600.43,285.80 L602.10,285.20 L603.54,284.85 L604.63,284.60 L605.80,284.50 L606.72,284.89 L607.20,285.20 L607.95,284.54 L608.70,284.10 L609.33,284.74 L610.10,285.90 L611.19,286.69 L612.30,287.40 L613.00,288.32 L613.80,288.80 L615.30,288.59 L616.50,288.10" fill="none" stroke="#1767DC" stroke-width="2.8" stroke-linejoin="round" stroke-linecap="round"/>
<path d="M77.00,255.20 L77.96,255.18 L78.88,255.17 L79.79,255.14 L80.68,255.12 L81.59,255.10 L82.52,255.08 L83.49,255.05 L84.52,255.03 L85.62,255.01 L86.81,254.99 L88.11,254.97 L89.52,254.95 L91.07,254.93 L92.78,254.92 L94.65,254.91 L96.70,254.90 L98.45,254.89 L100.07,254.88 L101.58,254.87 L103.00,254.85 L104.32,254.83 L105.57,254.81 L106.75,254.79 L107.88,254.78 L108.97,254.76 L110.02,254.76 L111.06,254.76 L112.09,254.76 L113.12,254.78 L114.16,254.80 L115.23,254.83 L116.34,254.88 L117.50,254.94 L118.71,255.01 L120.00,255.10 L122.87,255.28 L124.54,255.36 L125.39,255.41 L125.79,255.54 L126.14,255.82 L126.82,256.34 L128.20,257.20 L129.64,258.04 L130.76,258.77 L131.67,259.45 L132.45,260.14 L133.21,260.91 L134.04,261.81 L135.04,262.92 L136.30,264.30 L137.53,265.60 L138.42,266.54 L139.07,267.25 L139.60,267.89 L140.10,268.59 L140.68,269.50 L141.45,270.75 L142.50,272.50 L143.31,273.86 L143.97,275.02 L144.51,276.02 L144.96,276.92 L145.37,277.77 L145.75,278.62 L146.16,279.52 L146.61,280.53 L147.15,281.69 L147.80,283.07 L148.60,284.70 L149.40,286.32 L150.05,287.65 L150.59,288.76 L151.04,289.70 L151.45,290.55 L151.83,291.35 L152.24,292.18 L152.69,293.10 L153.23,294.17 L153.89,295.45 L154.70,297.00 L155.57,298.67 L156.24,299.97 L156.76,301.00 L157.20,301.84 L157.60,302.60 L158.01,303.36 L158.50,304.20 L159.11,305.23 L159.89,306.53 L160.90,308.20 L161.78,309.65 L162.52,310.89 L163.16,311.96 L163.73,312.90 L164.25,313.75 L164.75,314.55 L165.26,315.34 L165.82,316.16 L166.44,317.04 L167.16,318.03 L168.00,319.17 L169.00,320.50 L170.17,322.06 L171.10,323.32 L171.86,324.35 L172.50,325.19 L173.09,325.92 L173.68,326.58 L174.32,327.23 L175.09,327.93 L176.03,328.74 L177.20,329.70 L178.83,330.99 L180.07,331.87 L181.06,332.46 L181.95,332.84 L182.87,333.13 L183.97,333.41 L185.40,333.80 L187.18,334.32 L188.25,334.59 L189.03,334.59 L189.97,334.32 L191.50,333.80 L192.87,333.34 L193.84,332.98 L194.60,332.57 L195.36,331.98 L196.33,331.07 L197.70,329.70 L198.77,328.63 L199.58,327.80 L200.21,327.10 L200.76,326.41 L201.31,325.62 L201.94,324.62 L202.74,323.28 L203.80,321.50 L204.59,320.15 L205.21,319.02 L205.70,318.07 L206.11,317.21 L206.47,316.41 L206.82,315.60 L207.20,314.71 L207.66,313.70 L208.24,312.50 L208.97,311.05 L209.90,309.30 L210.73,307.77 L211.45,306.43 L212.10,305.24 L212.69,304.18 L213.23,303.20 L213.75,302.29 L214.25,301.41 L214.77,300.53 L215.31,299.61 L215.90,298.63 L216.55,297.56 L217.27,296.36 L218.10,295.00 L219.22,293.16 L220.09,291.74 L220.77,290.65 L221.32,289.80 L221.79,289.10 L222.26,288.44 L222.77,287.73 L223.40,286.89 L224.20,285.80 L225.49,283.98 L226.27,282.81 L226.81,282.09 L227.40,281.59 L228.30,281.10 L230.16,280.37 L231.40,282.30 L231.77,283.34 L231.98,284.27 L232.08,285.20 L232.13,286.23 L232.16,287.46 L232.23,288.98 L232.40,290.90 L232.56,292.53 L232.66,293.76 L232.73,294.75 L232.79,295.63 L232.86,296.56 L232.97,297.68 L233.14,299.14 L233.40,301.10 L233.62,302.80 L233.81,304.33 L233.96,305.70 L234.10,306.95 L234.25,308.11 L234.41,309.20 L234.60,310.24 L234.84,311.27 L235.13,312.32 L235.50,313.40 L236.90,315.59 L238.50,315.00 L240.25,315.39 L241.60,313.40 L241.94,312.21 L242.14,311.03 L242.26,309.83 L242.31,308.60 L242.34,307.33 L242.37,306.00 L242.45,304.59 L242.60,303.10 L242.83,300.95 L242.89,300.03 L243.06,299.37 L243.60,298.00 L244.31,296.28 L244.94,295.04 L245.67,294.00 L246.70,292.90 L248.15,292.61 L249.80,291.90 L250.58,290.91 L251.11,290.03 L251.55,289.12 L252.05,288.02 L252.79,286.60 L253.90,284.70 L254.69,283.34 L255.30,282.15 L255.80,281.09 L256.24,280.13 L256.69,279.22 L257.23,278.35 L257.92,277.46 L258.82,276.52 L260.00,275.50 L261.50,274.41 L262.67,273.79 L263.65,273.50 L264.62,273.39 L265.73,273.30 L267.13,273.09 L269.00,272.60 L270.64,272.11 L271.91,271.76 L272.92,271.51 L273.81,271.30 L274.71,271.06 L275.76,270.74 L277.08,270.27 L278.80,269.60 L280.35,268.94 L281.56,268.34 L282.53,267.80 L283.36,267.30 L284.14,266.81 L284.97,266.32 L285.94,265.82 L287.15,265.28 L288.70,264.70 L290.41,264.08 L291.71,263.75 L292.72,263.78 L293.60,263.57 L294.48,263.14 L295.49,263.16 L296.79,263.02 L298.50,262.62 L300.17,262.21 L301.37,262.00 L302.27,262.00 L303.05,261.47 L303.88,261.56 L304.93,261.31 L306.38,260.87 L308.40,260.72 L309.99,260.62 L311.33,260.35 L312.50,259.93 L313.55,260.22 L314.53,259.96 L315.50,259.92 L316.51,259.37 L317.64,259.34 L318.92,259.13 L320.42,259.42 L322.20,259.09 L324.15,258.97 L325.80,259.15 L327.20,259.47 L328.41,259.54 L329.49,259.39 L330.50,259.29 L331.49,260.17 L332.54,259.90 L333.69,260.05 L335.00,259.39 L337.13,259.18 L337.55,259.59 L337.92,258.88 L339.90,257.67 L341.17,258.08 L342.33,257.29 L343.42,256.97 L344.46,255.77 L345.50,256.08 L346.56,254.86 L347.68,255.28 L348.88,254.55 L350.21,254.19 L351.70,254.25 L353.78,254.64 L355.03,254.30 L355.85,254.69 L356.62,255.71 L357.74,256.03 L359.60,256.41 L361.25,256.69 L362.68,256.67 L363.95,256.82 L365.09,256.88 L366.16,256.82 L367.20,257.27 L368.27,256.88 L369.40,257.30 L370.59,258.47 L371.40,259.55 L372.57,259.08 L373.57,258.95 L374.57,258.22 L375.74,258.39 L377.26,257.71 L379.30,256.99 L380.80,257.13 L381.86,257.54 L382.68,256.74 L383.41,257.54 L384.24,257.27 L385.35,257.47 L386.91,257.93 L389.10,257.59 L390.61,257.75 L392.02,257.95 L393.32,258.26 L394.55,257.62 L395.72,258.11 L396.84,257.99 L397.94,257.92 L399.02,257.70 L400.12,257.74 L401.23,257.63 L402.39,257.73 L403.61,257.78 L404.90,258.22 L407.49,258.23 L408.75,258.37 L409.30,258.55 L409.77,259.28 L410.80,259.89 L412.51,260.32 L413.33,260.80 L414.40,262.70 L414.96,263.96 L415.34,265.09 L415.60,266.17 L415.81,267.27 L416.02,268.47 L416.29,269.86 L416.70,271.50 L417.25,273.57 L417.59,274.98 L417.87,276.04 L418.19,277.07 L418.70,278.40 L419.37,280.39 L419.77,281.28 L420.70,281.40 L421.64,280.86 L422.41,279.78 L423.20,278.61 L424.20,277.80 L425.46,277.80 L426.60,279.00 L427.63,280.08 L428.36,281.06 L429.50,281.40 L430.39,281.08 L430.90,280.20 L432.50,278.40 L433.55,277.37 L434.47,276.33 L435.33,275.32 L436.19,274.40 L437.12,273.59 L438.17,272.95 L439.40,272.50 L441.13,272.57 L442.05,273.51 L442.87,274.70 L444.30,275.50 L445.91,275.57 L447.04,275.20 L448.03,274.73 L449.20,274.50 L450.43,273.92 L451.20,275.50 L451.61,276.49 L451.94,277.36 L452.22,278.21 L452.47,279.12 L452.73,280.19 L453.01,281.52 L453.36,283.19 L453.80,285.30 L454.12,286.87 L454.38,288.20 L454.60,289.35 L454.78,290.37 L454.94,291.33 L455.08,292.28 L455.23,293.29 L455.40,294.42 L455.59,295.72 L455.82,297.26 L456.10,299.10 L456.38,300.96 L456.61,302.57 L456.80,303.97 L456.96,305.19 L457.10,306.30 L457.22,307.33 L457.35,308.33 L457.49,309.34 L457.66,310.41 L457.86,311.58 L458.10,312.90 L458.67,315.62 L459.02,316.75 L459.34,317.35 L459.80,318.50 L460.27,320.43 L461.10,321.80 L462.16,323.87 L463.14,325.48 L464.60,324.60 L465.07,323.71 L465.45,322.60 L465.76,321.33 L466.03,319.94 L466.27,318.48 L466.50,317.02 L466.74,315.59 L467.01,314.25 L467.33,313.06 L467.72,312.06 L468.20,311.30 L469.18,310.68 L469.87,311.27 L470.46,312.65 L471.08,314.40 L471.90,316.10 L472.74,317.48 L473.11,318.25 L473.48,319.15 L474.30,320.90 L474.99,322.56 L475.52,324.23 L475.98,325.76 L476.47,327.02 L477.08,327.88 L477.90,328.20 L478.70,327.89 L479.26,327.05 L479.70,325.81 L480.14,324.29 L480.70,322.61 L481.50,320.90 L482.43,319.15 L483.04,317.86 L483.56,316.91 L484.17,316.20 L485.10,315.60 L486.53,315.61 L487.48,316.65 L488.70,317.30 L489.66,316.69 L491.10,315.60 L492.37,315.58 L493.53,315.96 L494.65,316.29 L495.82,316.09 L497.10,314.90 L497.74,313.88 L498.19,312.85 L498.49,311.80 L498.68,310.71 L498.81,309.56 L498.92,308.34 L499.06,307.03 L499.27,305.63 L499.60,304.10 L500.10,302.09 L500.44,300.71 L500.69,299.72 L500.92,298.92 L501.20,298.08 L501.60,297.00 L502.48,294.80 L503.20,294.50 L503.89,292.32 L504.40,296.90 L504.45,297.96 L504.50,299.05 L504.54,300.18 L504.57,301.34 L504.60,302.53 L504.62,303.75 L504.64,304.98 L504.66,306.24 L504.67,307.51 L504.68,308.79 L504.69,310.08 L504.69,311.37 L504.70,312.67 L504.71,313.97 L504.72,315.26 L504.73,316.54 L504.74,317.81 L504.76,319.07 L504.78,320.31 L504.81,321.52 L504.84,322.72 L504.87,323.88 L504.92,325.02 L504.97,326.12 L505.03,327.18 L505.10,328.20 L505.78,331.69 L506.80,329.40 L507.93,329.40 L509.20,331.80 L509.52,332.89 L509.77,333.90 L509.98,334.86 L510.16,335.82 L510.32,336.80 L510.48,337.84 L510.64,338.96 L510.82,340.21 L511.03,341.61 L511.28,343.19 L511.60,345.00 L511.91,346.86 L512.15,348.58 L512.33,350.17 L512.48,351.63 L512.62,352.95 L512.75,354.15 L512.90,355.23 L513.08,356.18 L513.31,357.00 L513.61,357.71 L514.00,358.30 L514.77,358.67 L515.31,357.77 L515.83,356.09 L516.52,354.10 L517.60,352.30 L518.78,351.17 L519.70,350.63 L520.53,350.27 L521.38,349.73 L522.40,348.60 L523.26,347.54 L523.70,347.03 L523.94,346.46 L524.23,345.19 L524.80,342.60 L525.07,341.33 L525.29,340.17 L525.47,339.08 L525.62,338.05 L525.75,337.04 L525.87,336.04 L525.99,335.01 L526.12,333.94 L526.27,332.80 L526.46,331.56 L526.68,330.19 L526.96,328.68 L527.30,327.00 L527.71,325.06 L528.05,323.43 L528.35,322.04 L528.62,320.85 L528.87,319.80 L529.12,318.85 L529.38,317.94 L529.68,317.02 L530.02,316.04 L530.42,314.95 L530.90,313.70 L531.83,311.31 L532.44,309.88 L532.96,309.11 L533.57,308.72 L534.50,308.40 L535.97,308.41 L536.97,309.49 L538.10,311.30 L538.78,312.96 L539.00,314.59 L539.19,315.77 L539.80,316.10 L540.46,315.57 L540.97,314.49 L541.46,313.09 L542.07,311.55 L542.90,310.10 L544.15,307.98 L544.99,306.83 L546.00,307.70 L546.36,308.41 L546.62,309.08 L546.79,309.78 L546.91,310.59 L547.01,311.56 L547.11,312.77 L547.24,314.29 L547.42,316.17 L547.70,318.50 L547.88,320.00 L548.02,321.41 L548.13,322.76 L548.22,324.04 L548.30,325.26 L548.37,326.44 L548.44,327.59 L548.51,328.71 L548.59,329.81 L548.69,330.91 L548.82,332.00 L548.97,333.11 L549.17,334.24 L549.41,335.40 L549.70,336.60 L550.53,339.51 L551.21,341.11 L551.87,341.75 L552.65,341.73 L553.70,341.40 L554.57,340.84 L555.21,339.89 L555.71,338.64 L556.17,337.20 L556.70,335.69 L557.40,334.20 L558.39,331.99 L558.83,330.89 L559.80,330.60 L560.45,330.53 L560.64,330.72 L561.31,331.75 L563.40,334.20 L564.25,335.13 L565.04,336.02 L565.77,336.88 L566.47,337.71 L567.16,338.53 L567.85,339.35 L568.55,340.19 L569.29,341.05 L570.08,341.95 L570.94,342.90 L571.88,343.90 L572.93,344.98 L574.10,346.14 L575.40,347.40 L576.87,348.81 L578.08,350.01 L579.10,351.04 L579.97,351.91 L580.73,352.67 L581.45,353.33 L582.17,353.93 L582.93,354.51 L583.80,355.08 L584.82,355.69 L586.03,356.35 L587.50,357.10 L589.27,357.91 L590.76,358.44 L592.02,358.74 L593.12,358.88 L594.11,358.91 L595.05,358.89 L596.01,358.89 L597.03,358.95 L598.17,359.13 L599.50,359.50 L601.69,360.49 L602.86,361.46 L603.53,362.29 L604.23,362.88 L605.50,363.10 L607.07,362.54 L607.94,361.30 L608.78,360.06 L610.30,359.50 L611.79,359.76 L612.99,360.42 L614.01,361.31 L614.95,362.26 L615.90,363.10 L616.76,363.91 L616.50,364.00" fill="none" stroke="#27A862" stroke-width="2.8" stroke-linejoin="round" stroke-linecap="round"/>
<path d="M77.00,337.50 L77.95,337.52 L78.84,337.54 L79.69,337.56 L80.52,337.59 L81.36,337.62 L82.22,337.65 L83.12,337.68 L84.09,337.71 L85.15,337.74 L86.31,337.76 L87.60,337.78 L89.04,337.80 L90.65,337.81 L92.45,337.81 L94.46,337.81 L96.70,337.80 L98.31,337.79 L99.85,337.76 L101.32,337.73 L102.74,337.70 L104.09,337.66 L105.40,337.62 L106.66,337.57 L107.88,337.52 L109.06,337.47 L110.21,337.42 L111.33,337.37 L112.43,337.33 L113.51,337.28 L114.57,337.24 L115.63,337.21 L116.68,337.18 L117.73,337.15 L118.79,337.14 L119.85,337.13 L120.93,337.13 L122.03,337.14 L123.15,337.16 L124.30,337.20 L127.94,337.32 L129.02,337.41 L128.88,337.62 L128.83,338.10 L130.20,339.00 L131.49,339.58 L132.60,340.06 L133.58,340.49 L134.50,340.90 L135.41,341.35 L136.36,341.89 L137.42,342.57 L138.65,343.42 L140.10,344.50 L141.48,345.59 L142.53,346.49 L143.33,347.26 L143.97,347.97 L144.55,348.66 L145.15,349.41 L145.86,350.27 L146.78,351.32 L148.00,352.60 L149.21,353.88 L150.13,354.92 L150.83,355.79 L151.42,356.53 L151.98,357.21 L152.61,357.88 L153.39,358.62 L154.43,359.47 L155.80,360.50 L157.21,361.50 L158.35,362.26 L159.30,362.84 L160.14,363.29 L160.96,363.66 L161.85,364.00 L162.88,364.37 L164.13,364.82 L165.70,365.40 L167.41,366.05 L168.71,366.52 L169.72,366.86 L170.60,367.11 L171.48,367.31 L172.49,367.49 L173.79,367.71 L175.50,368.00 L177.22,368.29 L178.52,368.49 L179.56,368.62 L180.45,368.70 L181.34,368.74 L182.38,368.76 L183.68,368.77 L185.40,368.80 L187.11,368.84 L188.41,368.86 L189.42,368.86 L190.30,368.84 L191.18,368.79 L192.19,368.70 L193.49,368.57 L195.20,368.40 L196.93,368.20 L198.27,368.01 L199.33,367.83 L200.26,367.64 L201.17,367.45 L202.20,367.25 L203.47,367.03 L205.10,366.80 L206.86,366.63 L208.04,366.61 L208.89,366.66 L209.64,366.71 L210.55,366.66 L211.86,366.46 L213.80,366.00 L215.27,365.57 L216.47,365.14 L217.47,364.70 L218.35,364.26 L219.19,363.81 L220.07,363.36 L221.07,362.90 L222.28,362.44 L223.76,361.97 L225.60,361.50 L227.29,361.15 L228.70,360.92 L229.88,360.80 L230.91,360.75 L231.84,360.74 L232.76,360.76 L233.72,360.76 L234.80,360.72 L236.06,360.62 L237.57,360.42 L239.40,360.10 L241.23,359.71 L242.74,359.33 L244.00,358.95 L245.08,358.57 L246.04,358.20 L246.96,357.84 L247.89,357.48 L248.92,357.13 L250.10,356.78 L251.51,356.44 L253.20,356.10 L255.19,355.77 L256.71,355.56 L257.89,355.46 L258.85,355.44 L259.73,355.47 L260.65,355.51 L261.75,355.55 L263.16,355.56 L265.00,355.50 L266.94,355.40 L268.60,355.29 L270.02,355.18 L271.26,355.08 L272.39,355.00 L273.47,354.95 L274.53,354.92 L275.66,354.94 L276.90,355.00 L278.65,356.05 L279.80,356.50 L281.02,356.23 L282.07,355.87 L283.05,355.43 L284.09,354.91 L285.31,354.34 L286.80,353.69 L288.70,353.00 L290.32,352.57 L291.52,351.96 L292.47,351.66 L293.30,351.48 L294.17,351.36 L295.23,350.90 L296.62,350.70 L298.50,350.06 L300.07,350.02 L301.35,349.64 L302.43,349.06 L303.37,348.59 L304.25,348.75 L305.15,348.08 L306.14,347.82 L307.29,347.27 L308.69,347.10 L310.40,346.68 L312.15,346.21 L313.65,345.59 L314.94,345.39 L316.08,344.75 L317.10,344.61 L318.06,344.24 L319.00,344.20 L319.97,343.78 L321.02,343.58 L322.20,343.58 L324.66,343.21 L325.20,343.67 L326.10,344.72 L327.16,346.24 L327.79,347.73 L328.33,349.07 L329.10,349.83 L329.86,348.84 L330.18,346.95 L331.10,346.28 L332.29,345.25 L333.30,346.63 L335.00,346.47 L336.03,345.14 L336.61,345.37 L337.16,344.62 L338.11,343.38 L339.90,342.48 L341.32,342.03 L342.64,340.89 L343.89,341.15 L345.09,340.99 L346.25,341.23 L347.39,340.96 L348.54,340.60 L349.70,339.70 L351.20,338.93 L351.52,337.86 L351.42,336.81 L351.70,334.38 L352.11,332.25 L352.42,330.26 L352.66,328.55 L352.86,326.76 L353.06,327.01 L353.30,327.27 L353.40,328.07 L353.46,329.06 L353.50,330.33 L353.52,331.49 L353.53,332.42 L353.52,334.97 L353.51,336.54 L353.50,337.86 L353.49,339.45 L353.49,341.05 L353.51,341.62 L353.55,343.51 L353.61,343.77 L353.70,344.09 L353.83,344.45 L353.91,344.35 L353.96,342.49 L354.02,341.49 L354.09,339.94 L354.22,337.50 L354.43,335.67 L354.75,334.46 L355.20,333.92 L355.88,333.85 L356.43,334.31 L356.96,335.53 L357.59,336.33 L358.43,337.92 L359.60,339.30 L361.02,340.88 L362.11,340.90 L363.09,341.47 L364.15,340.91 L365.50,341.07 L367.26,341.41 L368.15,341.59 L369.40,340.83 L370.59,340.01 L371.21,338.79 L372.40,337.72 L373.53,336.11 L374.35,334.58 L375.17,333.17 L376.30,334.17 L376.96,334.09 L377.42,336.25 L377.76,337.69 L378.04,338.13 L378.34,340.05 L378.73,341.52 L379.30,342.16 L379.88,341.17 L380.17,339.82 L380.36,338.19 L380.64,337.43 L381.19,335.15 L382.20,334.80 L383.20,334.22 L383.81,335.17 L384.36,336.52 L385.20,336.54 L386.67,338.34 L389.10,338.71 L390.46,339.39 L391.76,339.32 L393.00,338.84 L394.21,339.67 L395.38,339.17 L396.53,338.59 L397.67,338.51 L398.81,339.03 L399.96,338.92 L401.14,338.82 L402.34,338.70 L403.60,338.84 L404.90,338.89 L407.49,339.34 L408.75,338.87 L409.30,339.40 L409.77,339.74 L410.80,339.97 L412.25,340.98 L413.06,341.54 L413.64,342.52 L414.40,344.60 L414.79,345.87 L415.03,346.92 L415.15,347.85 L415.21,348.76 L415.25,349.77 L415.31,350.97 L415.45,352.48 L415.70,354.40 L415.96,356.10 L416.15,357.43 L416.31,358.50 L416.46,359.44 L416.61,360.37 L416.78,361.39 L417.01,362.62 L417.31,364.19 L417.70,366.20 L418.04,367.99 L418.34,369.64 L418.61,371.16 L418.86,372.56 L419.10,373.86 L419.32,375.06 L419.56,376.17 L419.80,377.22 L420.07,378.19 L420.37,379.12 L420.70,380.00 L421.75,381.42 L422.60,378.10 L422.93,376.99 L423.16,375.96 L423.34,374.97 L423.49,373.94 L423.66,372.81 L423.87,371.52 L424.17,370.00 L424.60,368.20 L425.05,366.40 L425.43,364.89 L425.75,363.62 L426.05,362.51 L426.36,361.50 L426.70,360.52 L427.10,359.51 L427.60,358.40 L428.95,356.03 L430.10,356.40 L430.95,356.70 L431.45,357.53 L432.10,360.30 L432.36,361.63 L432.54,362.83 L432.67,363.97 L432.77,365.09 L432.85,366.24 L432.95,367.48 L433.07,368.85 L433.25,370.41 L433.50,372.20 L433.79,374.15 L434.02,375.73 L434.21,377.01 L434.39,378.09 L434.57,379.04 L434.79,379.96 L435.06,380.91 L435.40,382.00 L436.49,384.57 L437.40,384.00 L437.78,383.23 L437.90,382.24 L438.02,380.65 L438.40,378.10 L438.66,376.64 L438.87,375.37 L439.04,374.23 L439.21,373.15 L439.40,372.07 L439.65,370.93 L439.97,369.66 L440.40,368.20 L441.05,365.97 L441.53,364.30 L441.98,363.16 L442.52,362.51 L443.30,362.30 L444.07,362.64 L444.58,363.55 L445.02,364.88 L445.53,366.48 L446.30,368.20 L447.20,370.14 L447.75,371.63 L448.30,372.63 L449.20,373.10 L450.11,373.05 L450.70,372.43 L451.29,371.17 L452.20,369.20 L452.79,367.84 L453.23,366.49 L453.59,365.18 L453.91,363.97 L454.23,362.89 L454.61,361.98 L455.10,361.30 L455.96,360.50 L456.40,361.24 L457.10,364.30 L457.36,365.56 L457.58,366.88 L457.75,368.25 L457.90,369.63 L458.04,371.02 L458.16,372.38 L458.30,373.69 L458.45,374.95 L458.62,376.11 L458.84,377.17 L459.10,378.10 L460.24,378.96 L461.10,376.10 L461.42,375.03 L461.47,374.20 L461.49,373.12 L461.70,371.30 L461.96,369.55 L462.15,368.03 L462.35,366.69 L462.62,365.46 L463.00,364.30 L463.69,363.14 L464.60,364.10 L465.26,364.29 L465.75,364.68 L467.00,367.70 L467.42,368.83 L467.80,369.88 L468.14,370.87 L468.46,371.82 L468.76,372.76 L469.06,373.73 L469.36,374.75 L469.68,375.84 L470.03,377.03 L470.42,378.36 L470.85,379.84 L471.34,381.52 L471.90,383.40 L472.42,385.14 L472.86,386.66 L473.25,387.99 L473.59,389.17 L473.89,390.24 L474.17,391.22 L474.43,392.16 L474.68,393.08 L474.95,394.02 L475.22,395.02 L475.52,396.10 L475.86,397.30 L476.25,398.65 L476.70,400.20 L477.30,402.39 L477.78,404.36 L478.16,406.09 L478.47,407.60 L478.74,408.90 L478.99,409.98 L479.24,410.86 L479.53,411.54 L479.87,412.01 L480.30,412.30 L480.81,412.33 L481.17,411.96 L481.43,411.21 L481.62,410.10 L481.80,408.66 L482.01,406.92 L482.29,404.89 L482.70,402.60 L482.99,401.05 L483.21,399.62 L483.39,398.29 L483.54,397.04 L483.66,395.85 L483.78,394.72 L483.91,393.63 L484.05,392.56 L484.23,391.49 L484.46,390.42 L484.74,389.33 L485.10,388.20 L486.32,385.18 L487.27,384.60 L488.70,385.30 L489.50,385.61 L490.06,385.81 L490.50,386.21 L490.94,387.13 L491.50,388.89 L492.30,391.80 L492.62,393.05 L492.89,394.25 L493.14,395.41 L493.35,396.54 L493.54,397.65 L493.71,398.75 L493.87,399.85 L494.02,400.95 L494.16,402.06 L494.31,403.18 L494.47,404.34 L494.64,405.53 L494.84,406.77 L495.05,408.05 L495.30,409.40 L495.58,410.81 L495.90,412.30 L496.43,414.67 L496.88,416.63 L497.25,418.23 L497.57,419.53 L497.87,420.59 L498.16,421.47 L498.45,422.22 L498.78,422.90 L499.15,423.58 L499.60,424.30 L500.93,425.51 L502.00,421.90 L502.34,420.81 L502.59,419.84 L502.78,418.92 L502.94,418.01 L503.08,417.05 L503.23,416.00 L503.42,414.80 L503.66,413.40 L503.98,411.75 L504.40,409.80 L504.77,408.11 L505.10,406.57 L505.39,405.15 L505.66,403.85 L505.91,402.64 L506.15,401.51 L506.39,400.44 L506.65,399.41 L506.93,398.41 L507.24,397.42 L507.60,396.42 L508.00,395.40 L509.62,392.40 L510.90,394.20 L511.30,395.06 L511.58,395.97 L511.76,396.95 L511.90,398.03 L512.03,399.23 L512.20,400.58 L512.44,402.09 L512.80,403.80 L513.21,405.69 L513.50,407.26 L513.72,408.57 L513.94,409.67 L514.23,410.62 L514.62,411.48 L515.20,412.30 L516.44,412.39 L517.42,410.91 L518.80,411.00 L519.46,411.82 L519.95,412.68 L520.32,413.63 L520.64,414.73 L520.98,416.04 L521.41,417.61 L522.00,419.50 L522.52,421.25 L522.91,422.86 L523.22,424.32 L523.47,425.63 L523.71,426.77 L523.99,427.74 L524.34,428.52 L524.80,429.10 L525.56,429.52 L525.97,428.86 L526.42,427.12 L527.30,424.30 L527.73,423.01 L528.05,421.83 L528.31,420.71 L528.53,419.62 L528.75,418.55 L529.00,417.46 L529.30,416.31 L529.70,415.09 L530.22,413.77 L530.90,412.30 L531.89,410.51 L532.71,409.39 L533.43,408.69 L534.14,408.14 L534.90,407.52 L535.80,406.55 L536.90,405.00 L537.83,403.35 L538.50,401.78 L539.01,400.32 L539.42,398.99 L539.82,397.81 L540.27,396.81 L540.88,396.00 L541.70,395.40 L542.97,395.53 L543.85,396.91 L544.58,398.69 L545.39,400.07 L546.50,400.20 L547.19,399.54 L547.64,398.56 L547.94,397.36 L548.17,396.00 L548.41,394.57 L548.76,393.13 L549.29,391.79 L550.10,390.60 L551.45,389.31 L552.53,388.75 L553.54,388.72 L554.70,389.00 L556.20,389.40 L557.86,389.28 L558.85,388.91 L559.71,389.68 L561.00,393.00 L561.35,394.16 L561.65,395.39 L561.91,396.68 L562.14,398.02 L562.33,399.38 L562.50,400.77 L562.65,402.17 L562.79,403.56 L562.92,404.94 L563.05,406.29 L563.17,407.60 L563.31,408.87 L563.46,410.07 L563.63,411.19 L563.82,412.23 L564.04,413.17 L564.30,413.99 L564.60,414.70 L565.38,415.72 L565.89,415.23 L566.28,413.70 L566.70,411.58 L567.29,409.33 L568.20,407.40 L569.31,405.75 L570.12,404.59 L570.85,403.78 L571.73,403.16 L573.00,402.60 L574.51,402.16 L575.52,402.24 L576.46,402.80 L577.80,403.80 L578.82,404.76 L579.38,405.72 L579.80,406.68 L580.37,407.64 L581.40,408.60 L582.62,409.14 L583.37,408.95 L584.36,408.88 L586.30,409.80 L587.39,410.54 L588.31,411.26 L589.13,411.98 L589.89,412.71 L590.65,413.47 L591.46,414.28 L592.37,415.14 L593.43,416.07 L594.70,417.10 L596.21,418.28 L597.27,419.13 L598.07,419.74 L598.76,420.22 L599.52,420.67 L600.51,421.20 L601.90,421.90 L603.54,422.63 L604.76,423.02 L605.73,423.22 L606.65,423.39 L607.71,423.70 L609.10,424.30 L610.67,424.95 L611.70,425.24 L612.42,425.57 L613.10,426.33 L614.00,427.90 L614.57,429.21 L614.97,430.51 L615.22,431.77 L615.38,433.01 L615.48,434.21 L615.58,435.36 L615.70,436.46 L615.90,437.50 L616.39,438.71 L616.50,438.00" fill="none" stroke="#A09C10" stroke-width="2.8" stroke-linejoin="round" stroke-linecap="round"/>
<path d="M77.00,406.40 L77.95,406.40 L78.84,406.40 L79.69,406.40 L80.52,406.40 L81.36,406.40 L82.22,406.40 L83.12,406.40 L84.09,406.40 L85.15,406.40 L86.31,406.40 L87.60,406.40 L89.04,406.40 L90.65,406.40 L92.45,406.40 L94.46,406.40 L96.70,406.40 L98.38,406.40 L99.97,406.39 L101.49,406.37 L102.94,406.36 L104.33,406.34 L105.66,406.31 L106.94,406.29 L108.18,406.27 L109.37,406.24 L110.54,406.22 L111.68,406.20 L112.80,406.18 L113.91,406.17 L115.01,406.16 L116.11,406.16 L117.21,406.17 L118.33,406.18 L119.46,406.21 L120.62,406.24 L121.81,406.28 L123.03,406.33 L124.30,406.40 L127.88,406.60 L129.62,406.72 L130.22,406.87 L130.38,407.13 L130.81,407.61 L132.20,408.40 L133.74,409.08 L134.87,409.55 L135.75,409.94 L136.55,410.41 L137.43,411.10 L138.56,412.15 L140.10,413.70 L141.14,414.78 L141.99,415.69 L142.69,416.49 L143.28,417.22 L143.81,417.93 L144.31,418.68 L144.84,419.51 L145.43,420.46 L146.12,421.60 L146.97,422.96 L148.00,424.60 L148.89,426.00 L149.63,427.18 L150.25,428.20 L150.79,429.08 L151.26,429.88 L151.69,430.64 L152.11,431.40 L152.54,432.21 L153.01,433.10 L153.55,434.12 L154.17,435.32 L154.91,436.73 L155.80,438.40 L156.63,439.97 L157.33,441.35 L157.94,442.55 L158.46,443.62 L158.92,444.59 L159.34,445.49 L159.74,446.35 L160.14,447.21 L160.56,448.09 L161.02,449.04 L161.55,450.08 L162.16,451.25 L162.87,452.58 L163.70,454.10 L164.66,455.85 L165.46,457.32 L166.12,458.57 L166.68,459.63 L167.18,460.55 L167.65,461.38 L168.12,462.16 L168.62,462.94 L169.18,463.75 L169.84,464.66 L170.64,465.69 L171.60,466.90 L172.99,468.61 L174.06,469.86 L174.91,470.77 L175.65,471.43 L176.38,471.96 L177.19,472.46 L178.20,473.04 L179.50,473.80 L181.38,474.94 L182.57,475.61 L183.52,475.89 L184.65,475.92 L186.40,475.80 L187.91,475.78 L188.95,475.84 L189.75,475.78 L190.57,475.39 L191.67,474.47 L193.30,472.80 L194.20,471.82 L194.95,470.97 L195.58,470.20 L196.12,469.48 L196.61,468.75 L197.07,467.97 L197.54,467.11 L198.06,466.12 L198.65,464.95 L199.35,463.57 L200.19,461.94 L201.20,460.00 L201.93,458.59 L202.57,457.30 L203.13,456.13 L203.62,455.05 L204.06,454.04 L204.46,453.09 L204.83,452.18 L205.18,451.29 L205.54,450.41 L205.91,449.51 L206.30,448.57 L206.73,447.59 L207.21,446.54 L207.75,445.40 L208.37,444.16 L209.09,442.80 L209.90,441.30 L210.89,439.51 L211.75,437.96 L212.50,436.62 L213.17,435.44 L213.78,434.41 L214.34,433.50 L214.88,432.66 L215.41,431.87 L215.97,431.11 L216.56,430.33 L217.20,429.51 L217.93,428.62 L218.76,427.63 L219.70,426.50 L221.28,424.67 L222.52,423.35 L223.51,422.42 L224.34,421.79 L225.08,421.35 L225.81,421.01 L226.63,420.66 L227.60,420.20 L229.64,419.12 L230.50,421.00 L230.97,421.95 L231.28,422.78 L231.50,423.60 L231.68,424.55 L231.87,425.76 L232.12,427.37 L232.50,429.50 L232.79,431.07 L233.04,432.41 L233.25,433.58 L233.43,434.65 L233.60,435.67 L233.76,436.71 L233.92,437.83 L234.09,439.10 L234.28,440.57 L234.50,442.30 L234.71,444.22 L234.83,445.83 L234.88,447.17 L234.90,448.32 L234.92,449.33 L234.96,450.25 L235.05,451.15 L235.22,452.08 L235.50,453.10 L236.71,454.92 L238.40,454.50 L240.23,455.23 L241.80,454.10 L242.32,453.07 L242.62,452.12 L242.79,451.09 L242.91,449.85 L243.09,448.27 L243.40,446.20 L243.65,444.56 L243.80,443.16 L243.89,441.92 L243.97,440.81 L244.07,439.76 L244.23,438.71 L244.49,437.61 L244.90,436.40 L245.87,434.69 L246.73,434.59 L248.30,433.40 L249.12,432.38 L249.74,431.52 L250.25,430.73 L250.76,429.93 L251.36,429.02 L252.14,427.90 L253.20,426.50 L254.21,425.10 L254.89,423.98 L255.40,423.06 L255.92,422.25 L256.59,421.47 L257.60,420.61 L259.10,419.60 L260.52,418.78 L261.69,418.23 L262.70,417.88 L263.66,417.66 L264.67,417.50 L265.83,417.34 L267.24,417.09 L269.00,416.70 L270.71,416.30 L272.01,416.04 L273.02,415.88 L273.90,415.76 L274.78,415.63 L275.79,415.45 L277.09,415.15 L278.80,414.70 L280.52,414.18 L281.82,413.72 L282.86,413.29 L283.75,412.89 L284.64,412.49 L285.68,412.09 L286.98,411.67 L288.70,411.20 L290.31,410.95 L291.34,410.63 L292.04,410.56 L292.62,410.28 L293.33,410.25 L294.39,410.18 L296.04,410.24 L298.50,409.83 L299.91,409.58 L301.21,409.44 L302.41,409.23 L303.53,409.00 L304.59,408.87 L305.62,408.98 L306.64,408.66 L307.65,408.75 L308.69,408.39 L309.76,408.28 L310.90,408.25 L312.12,408.03 L313.44,408.00 L314.88,408.12 L316.46,408.01 L318.20,407.91 L320.16,407.79 L321.89,407.87 L323.42,407.91 L324.77,407.82 L325.98,407.95 L327.08,407.81 L328.08,408.14 L329.02,408.14 L329.93,408.34 L330.84,408.43 L331.77,408.24 L332.76,408.12 L333.82,408.73 L335.00,408.14 L337.66,408.18 L338.15,407.81 L338.29,407.34 L339.90,406.97 L341.30,406.76 L342.58,405.96 L343.78,405.97 L344.93,405.48 L346.06,405.40 L347.21,404.98 L348.41,404.45 L349.70,403.96 L351.81,402.53 L352.34,401.90 L353.30,401.40 L353.99,401.91 L354.03,403.60 L354.53,405.03 L356.60,405.76 L357.84,405.84 L359.00,406.05 L360.11,406.05 L361.22,406.23 L362.34,405.99 L363.52,406.00 L364.78,405.90 L366.16,406.00 L367.69,406.13 L369.40,405.97 L371.35,405.67 L372.76,405.58 L373.81,405.54 L374.65,405.32 L375.46,405.21 L376.39,404.97 L377.61,405.14 L379.30,405.73 L380.91,405.31 L381.94,405.77 L382.64,406.08 L383.22,406.48 L383.93,406.29 L384.99,406.60 L386.64,406.85 L389.10,407.23 L390.54,407.38 L391.90,407.83 L393.21,407.83 L394.46,407.90 L395.67,407.34 L396.85,407.37 L398.00,407.86 L399.14,408.01 L400.27,407.73 L401.41,407.79 L402.55,407.60 L403.72,407.77 L404.92,408.00 L406.16,408.03 L407.45,408.12 L408.80,408.27 L411.69,408.26 L413.30,408.49 L414.13,408.62 L414.65,408.81 L415.35,409.14 L416.70,409.70 L418.45,410.43 L419.53,411.04 L420.33,411.64 L421.22,412.35 L422.60,413.30 L424.31,414.49 L425.40,415.37 L426.34,416.04 L427.60,416.60 L428.96,416.77 L430.50,416.00 L431.79,415.63 L432.91,415.23 L433.97,414.87 L435.10,414.63 L436.40,414.60 L437.88,414.89 L438.45,415.52 L439.40,416.60 L440.50,417.89 L441.20,418.95 L442.30,419.60 L443.70,419.14 L445.30,418.00 L446.72,417.51 L447.78,417.29 L449.20,417.60 L450.50,418.01 L451.24,418.62 L452.20,420.50 L452.74,421.74 L453.08,422.71 L453.31,423.65 L453.52,424.76 L453.78,426.27 L454.20,428.40 L454.50,429.91 L454.74,431.16 L454.92,432.23 L455.08,433.19 L455.22,434.13 L455.38,435.13 L455.56,436.28 L455.80,437.64 L456.10,439.30 L456.44,441.09 L456.70,442.42 L456.91,443.44 L457.09,444.30 L457.27,445.15 L457.48,446.13 L457.75,447.40 L458.10,449.10 L458.42,450.85 L458.62,452.23 L458.74,453.35 L458.85,454.32 L458.99,455.26 L459.21,456.28 L459.56,457.49 L460.10,459.00 L460.80,460.89 L461.43,462.62 L462.02,464.11 L462.60,465.28 L463.21,466.06 L463.86,466.36 L464.60,466.10 L465.08,465.58 L465.44,464.81 L465.71,463.84 L465.90,462.69 L466.05,461.41 L466.18,460.02 L466.31,458.56 L466.48,457.07 L466.70,455.57 L467.00,454.10 L467.50,451.72 L467.74,450.19 L467.93,449.24 L468.28,448.63 L469.00,448.10 L470.40,447.80 L471.63,448.67 L473.10,450.50 L473.88,451.68 L474.29,452.66 L474.54,453.65 L474.87,454.86 L475.50,456.50 L476.19,458.35 L476.67,459.99 L477.10,461.31 L477.62,462.18 L478.40,462.50 L479.17,462.28 L479.67,461.59 L480.10,460.41 L480.65,458.72 L481.50,456.50 L482.09,455.04 L482.55,453.74 L482.92,452.57 L483.25,451.47 L483.59,450.40 L483.98,449.31 L484.47,448.16 L485.10,446.90 L486.20,445.01 L486.90,444.21 L487.60,443.83 L488.70,443.20 L489.99,442.66 L490.80,442.73 L492.30,442.00 L493.38,441.10 L494.12,440.26 L494.80,439.40 L495.70,438.41 L497.10,437.20 L498.66,435.97 L499.94,434.97 L501.05,434.22 L502.10,433.76 L503.20,433.60 L504.26,432.75 L504.30,432.70 L504.40,437.20 L504.46,438.31 L504.52,439.45 L504.56,440.62 L504.59,441.82 L504.62,443.03 L504.64,444.26 L504.66,445.51 L504.67,446.76 L504.68,448.03 L504.69,449.30 L504.70,450.57 L504.71,451.84 L504.72,453.10 L504.73,454.36 L504.75,455.60 L504.78,456.83 L504.81,458.04 L504.85,459.23 L504.89,460.39 L504.95,461.53 L505.02,462.63 L505.10,463.70 L505.78,467.07 L506.80,466.10 L507.48,466.94 L508.00,467.29 L508.52,468.25 L509.20,470.90 L509.44,472.12 L509.64,473.23 L509.79,474.25 L509.91,475.23 L510.01,476.20 L510.10,477.19 L510.18,478.23 L510.28,479.36 L510.38,480.61 L510.52,482.01 L510.69,483.59 L510.90,485.40 L511.12,487.17 L511.32,488.65 L511.49,489.91 L511.64,490.99 L511.77,491.95 L511.90,492.84 L512.03,493.72 L512.15,494.64 L512.29,495.65 L512.44,496.81 L512.61,498.18 L512.80,499.80 L513.01,501.80 L513.15,503.59 L513.24,505.16 L513.30,506.55 L513.35,507.77 L513.40,508.84 L513.47,509.76 L513.59,510.57 L513.76,511.28 L514.00,511.90 L514.56,512.56 L514.96,511.80 L515.48,509.89 L516.40,507.10 L516.88,505.84 L517.28,504.78 L517.62,503.84 L517.93,502.95 L518.24,502.01 L518.57,500.95 L518.96,499.68 L519.42,498.13 L520.00,496.20 L520.48,494.62 L520.88,493.35 L521.22,492.31 L521.52,491.42 L521.78,490.60 L522.03,489.79 L522.28,488.89 L522.55,487.84 L522.85,486.56 L523.19,484.97 L523.60,483.00 L523.91,481.38 L524.17,479.94 L524.36,478.65 L524.52,477.49 L524.65,476.41 L524.75,475.41 L524.85,474.43 L524.95,473.46 L525.05,472.47 L525.18,471.42 L525.34,470.29 L525.53,469.04 L525.79,467.66 L526.10,466.10 L526.54,464.03 L526.88,462.38 L527.17,461.08 L527.42,460.02 L527.67,459.13 L527.93,458.32 L528.24,457.49 L528.62,456.57 L529.10,455.47 L529.70,454.10 L530.57,452.17 L531.30,450.71 L531.93,449.62 L532.51,448.79 L533.10,448.13 L533.75,447.53 L534.50,446.90 L535.89,446.06 L536.90,448.10 L537.49,449.46 L537.92,451.10 L538.28,452.78 L538.65,454.22 L539.13,455.14 L539.80,455.30 L540.33,454.86 L540.73,454.07 L541.06,453.00 L541.35,451.71 L541.64,450.27 L541.97,448.74 L542.37,447.20 L542.90,445.70 L543.85,442.81 L544.47,440.48 L545.03,439.54 L545.80,440.80 L546.03,441.52 L546.22,442.28 L546.38,443.08 L546.50,443.93 L546.61,444.84 L546.69,445.82 L546.77,446.87 L546.83,448.01 L546.90,449.23 L546.98,450.56 L547.07,451.99 L547.18,453.53 L547.32,455.19 L547.49,456.98 L547.70,458.90 L547.90,460.70 L548.08,462.36 L548.24,463.89 L548.38,465.31 L548.51,466.63 L548.63,467.86 L548.74,469.02 L548.85,470.12 L548.96,471.17 L549.08,472.18 L549.21,473.17 L549.35,474.15 L549.50,475.12 L549.68,476.12 L549.87,477.14 L550.10,478.20 L551.29,482.05 L552.50,480.60 L553.03,479.98 L553.37,479.31 L553.63,478.45 L553.92,477.27 L554.34,475.63 L555.00,473.40 L555.44,471.88 L555.81,470.41 L556.13,469.01 L556.42,467.66 L556.69,466.39 L556.97,465.19 L557.28,464.08 L557.64,463.06 L558.08,462.13 L558.60,461.30 L559.68,459.77 L560.27,460.50 L562.20,463.70 L562.89,464.70 L563.50,465.63 L564.06,466.52 L564.57,467.39 L565.06,468.26 L565.55,469.16 L566.06,470.11 L566.60,471.14 L567.21,472.26 L567.89,473.51 L568.67,474.89 L569.57,476.45 L570.60,478.20 L571.50,479.72 L572.29,481.07 L572.98,482.29 L573.59,483.38 L574.15,484.38 L574.66,485.31 L575.15,486.18 L575.63,487.02 L576.12,487.84 L576.63,488.68 L577.19,489.55 L577.81,490.48 L578.51,491.48 L579.30,492.58 L580.20,493.80 L581.49,495.54 L582.50,496.93 L583.31,498.04 L583.98,498.92 L584.57,499.61 L585.15,500.18 L585.79,500.68 L586.55,501.16 L587.50,501.68 L588.70,502.30 L590.64,503.06 L592.10,503.24 L593.27,503.03 L594.36,502.66 L595.57,502.35 L597.10,502.30 L598.98,502.35 L599.86,502.30 L600.57,502.55 L601.90,503.50 L602.99,504.63 L603.78,505.98 L604.42,507.34 L605.03,508.51 L605.74,509.30 L606.70,509.50 L607.61,508.86 L608.20,507.49 L608.61,505.78 L609.00,504.10 L609.51,502.81 L610.30,502.30 L611.15,502.79 L611.79,504.02 L612.32,505.66 L612.81,507.35 L613.34,508.74 L614.00,509.50 L614.83,509.08 L615.26,507.49 L615.53,505.71 L615.90,504.70 L616.39,505.87 L616.50,508.00" fill="none" stroke="#9632F5" stroke-width="2.8" stroke-linejoin="round" stroke-linecap="round"/>
<path d="M77.00,480.10 L78.00,480.09 L79.03,480.07 L80.08,480.05 L81.17,480.04 L82.28,480.02 L83.41,480.00 L84.57,479.98 L85.75,479.96 L86.95,479.94 L88.17,479.92 L89.40,479.90 L90.65,479.88 L91.91,479.86 L93.18,479.84 L94.46,479.81 L95.76,479.79 L97.06,479.77 L98.36,479.75 L99.67,479.73 L100.99,479.71 L102.30,479.69 L103.62,479.67 L104.93,479.65 L106.24,479.63 L107.55,479.61 L108.84,479.60 L110.13,479.58 L111.42,479.57 L112.69,479.55 L113.95,479.54 L115.19,479.53 L116.42,479.52 L117.63,479.51 L118.83,479.51 L120.00,479.50 L125.01,479.44 L127.14,479.35 L127.46,479.29 L127.00,479.32 L126.79,479.51 L127.90,479.90 L129.44,480.26 L130.58,480.50 L131.46,480.72 L132.26,481.03 L133.14,481.51 L134.27,482.27 L135.80,483.40 L137.03,484.34 L137.99,485.10 L138.75,485.76 L139.40,486.39 L140.00,487.07 L140.65,487.87 L141.41,488.85 L142.37,490.11 L143.60,491.70 L144.63,493.04 L145.48,494.17 L146.17,495.15 L146.76,496.03 L147.29,496.84 L147.79,497.66 L148.32,498.53 L148.91,499.49 L149.61,500.61 L150.46,501.93 L151.50,503.50 L152.54,505.05 L153.39,506.31 L154.08,507.35 L154.67,508.23 L155.20,509.01 L155.70,509.77 L156.23,510.55 L156.82,511.43 L157.51,512.47 L158.36,513.74 L159.40,515.30 L160.44,516.87 L161.29,518.18 L161.98,519.27 L162.57,520.21 L163.10,521.05 L163.60,521.85 L164.13,522.66 L164.72,523.55 L165.41,524.56 L166.26,525.76 L167.30,527.20 L168.43,528.78 L169.34,530.08 L170.07,531.16 L170.69,532.07 L171.25,532.86 L171.81,533.59 L172.43,534.32 L173.16,535.09 L174.07,535.97 L175.20,537.00 L176.74,538.38 L177.88,539.36 L178.76,540.02 L179.56,540.46 L180.44,540.76 L181.57,541.01 L183.10,541.30 L184.84,541.63 L186.05,541.80 L187.00,541.77 L187.95,541.49 L189.16,540.91 L190.90,540.00 L192.27,539.28 L193.31,538.70 L194.13,538.18 L194.84,537.61 L195.55,536.91 L196.38,535.99 L197.42,534.75 L198.80,533.10 L199.84,531.84 L200.69,530.77 L201.38,529.83 L201.97,528.97 L202.50,528.15 L203.00,527.32 L203.53,526.42 L204.12,525.41 L204.81,524.24 L205.66,522.85 L206.70,521.20 L207.66,519.68 L208.46,518.37 L209.12,517.25 L209.68,516.26 L210.18,515.37 L210.65,514.53 L211.12,513.71 L211.62,512.86 L212.18,511.95 L212.84,510.93 L213.64,509.76 L214.60,508.40 L215.75,506.81 L216.69,505.51 L217.47,504.45 L218.14,503.58 L218.75,502.84 L219.34,502.18 L219.97,501.54 L220.67,500.86 L221.50,500.10 L222.50,499.20 L224.30,497.64 L225.48,496.77 L226.36,496.36 L227.23,496.18 L228.40,496.00 L230.30,495.50 L231.40,497.60 L231.81,498.61 L232.10,499.45 L232.30,500.24 L232.45,501.08 L232.59,502.10 L232.75,503.42 L232.97,505.14 L233.30,507.40 L233.52,508.92 L233.69,510.35 L233.84,511.68 L233.95,512.95 L234.06,514.15 L234.15,515.31 L234.25,516.44 L234.35,517.54 L234.47,518.64 L234.62,519.74 L234.80,520.86 L235.03,522.01 L235.30,523.20 L236.08,525.98 L236.65,526.98 L237.27,527.09 L238.20,527.20 L239.38,527.51 L240.18,527.01 L241.20,525.20 L241.72,523.99 L242.02,522.91 L242.21,521.84 L242.40,520.63 L242.69,519.16 L243.20,517.30 L243.68,515.70 L244.02,514.44 L244.31,513.41 L244.60,512.50 L244.95,511.61 L245.43,510.61 L246.10,509.40 L247.21,507.84 L248.01,507.27 L248.86,506.79 L250.10,505.50 L251.04,504.14 L251.58,503.09 L252.03,502.12 L252.70,500.97 L253.90,499.40 L254.96,498.06 L255.68,497.07 L256.30,496.28 L257.05,495.57 L258.17,494.82 L259.90,493.90 L261.32,493.24 L262.47,492.80 L263.47,492.52 L264.41,492.34 L265.40,492.21 L266.54,492.06 L267.94,491.85 L269.70,491.50 L271.42,491.15 L272.72,490.92 L273.76,490.77 L274.65,490.65 L275.54,490.52 L276.58,490.33 L277.88,490.04 L279.60,489.60 L281.31,489.10 L282.61,488.66 L283.62,488.25 L284.50,487.87 L285.38,487.49 L286.39,487.10 L287.69,486.67 L289.40,486.20 L291.12,485.60 L292.42,485.34 L293.46,485.32 L294.35,485.27 L295.24,485.29 L296.28,485.09 L297.58,484.90 L299.30,484.72 L300.97,484.33 L302.16,484.20 L303.05,483.85 L303.81,484.08 L304.62,483.73 L305.65,483.91 L307.09,483.61 L309.10,483.21 L310.72,482.93 L312.17,482.79 L313.49,482.78 L314.70,482.63 L315.84,482.21 L316.93,482.04 L318.02,482.11 L319.13,482.02 L320.29,481.82 L321.54,481.66 L322.90,481.75 L325.45,481.50 L326.24,481.91 L326.84,482.26 L328.80,482.51 L330.22,482.33 L331.39,482.44 L332.40,481.95 L333.36,481.58 L334.37,481.40 L335.53,481.80 L336.94,481.26 L338.70,480.53 L340.47,479.89 L341.91,480.02 L343.11,479.91 L344.15,479.44 L345.12,479.03 L346.11,479.10 L347.21,478.95 L348.50,477.85 L350.49,476.64 L351.33,476.01 L351.86,475.48 L352.90,475.56 L354.05,475.54 L354.69,476.91 L355.31,477.89 L356.40,478.70 L357.62,479.30 L358.40,480.32 L360.40,479.93 L361.85,480.48 L363.10,479.98 L364.26,479.93 L365.44,480.31 L366.75,479.73 L368.30,480.11 L370.14,479.27 L371.05,478.54 L371.81,478.20 L373.20,478.23 L374.63,478.60 L375.45,479.22 L376.37,478.96 L378.10,479.60 L379.72,479.64 L380.98,480.39 L382.12,479.65 L383.38,479.59 L385.00,479.70 L386.54,480.19 L387.16,480.79 L387.92,480.93 L389.90,481.01 L391.21,481.36 L392.27,481.38 L393.20,480.89 L394.11,480.81 L395.10,481.53 L396.29,481.42 L397.79,480.86 L399.70,481.55 L401.48,481.44 L403.03,481.49 L404.38,481.50 L405.60,481.44 L406.74,481.39 L407.85,481.57 L408.98,481.71 L410.18,482.15 L411.50,482.03 L414.00,482.83 L414.58,483.44 L415.50,484.80 L416.43,486.19 L416.85,487.41 L417.32,488.55 L418.40,489.70 L419.59,490.41 L420.41,490.49 L421.47,490.43 L423.40,490.70 L424.91,491.05 L426.12,491.34 L427.20,491.61 L428.30,491.90 L429.58,492.25 L431.20,492.70 L432.98,493.17 L434.14,493.44 L435.01,493.67 L435.92,494.00 L437.20,494.60 L438.59,495.49 L439.26,496.25 L439.87,496.93 L441.10,497.60 L442.52,498.12 L443.54,498.34 L444.56,498.29 L446.00,498.00 L447.68,497.16 L448.67,496.15 L450.00,495.60 L451.65,495.57 L452.90,497.60 L453.43,498.70 L453.76,499.54 L453.99,500.37 L454.20,501.47 L454.47,503.09 L454.90,505.50 L455.16,506.98 L455.38,508.30 L455.56,509.50 L455.71,510.61 L455.85,511.68 L455.97,512.74 L456.11,513.83 L456.26,515.00 L456.43,516.27 L456.64,517.69 L456.90,519.30 L457.23,521.35 L457.45,522.86 L457.61,523.99 L457.75,524.89 L457.90,525.70 L458.10,526.58 L458.39,527.66 L458.80,529.10 L459.37,530.97 L459.81,532.28 L460.20,533.23 L460.61,534.03 L461.12,534.88 L461.80,536.00 L462.96,538.36 L463.72,539.63 L464.70,539.00 L465.11,538.19 L465.40,537.16 L465.60,535.96 L465.75,534.64 L465.90,533.25 L466.08,531.83 L466.33,530.43 L466.70,529.10 L467.55,526.83 L468.16,526.19 L469.10,526.20 L470.00,526.19 L470.59,526.83 L471.60,529.10 L472.08,530.34 L472.44,531.53 L472.74,532.69 L473.00,533.85 L473.28,535.03 L473.61,536.27 L474.03,537.58 L474.60,539.00 L475.48,541.03 L476.13,542.43 L476.69,543.31 L477.30,543.77 L478.10,543.90 L478.94,543.84 L479.35,543.32 L479.74,541.87 L480.50,539.00 L480.86,537.66 L481.16,536.35 L481.42,535.08 L481.64,533.82 L481.85,532.58 L482.05,531.36 L482.27,530.14 L482.51,528.92 L482.78,527.69 L483.11,526.45 L483.50,525.20 L484.60,522.38 L485.30,521.86 L486.40,521.60 L487.90,521.34 L489.40,522.20 L490.65,522.81 L492.30,524.20 L493.43,525.46 L494.36,526.91 L495.24,528.18 L496.17,528.90 L497.30,528.70 L497.96,528.11 L498.42,527.33 L498.73,526.37 L498.95,525.24 L499.15,523.96 L499.38,522.53 L499.71,520.97 L500.20,519.30 L500.80,517.47 L501.29,515.92 L501.69,514.61 L502.04,513.54 L502.39,512.66 L502.76,511.96 L503.20,511.40 L503.91,510.15 L504.14,510.47 L504.40,515.00 L504.46,516.15 L504.51,517.33 L504.54,518.54 L504.56,519.77 L504.57,521.03 L504.58,522.30 L504.58,523.59 L504.57,524.89 L504.57,526.19 L504.56,527.49 L504.56,528.79 L504.56,530.08 L504.56,531.35 L504.57,532.61 L504.59,533.86 L504.63,535.07 L504.67,536.26 L504.73,537.41 L504.81,538.53 L504.90,539.60 L505.82,542.56 L507.00,541.30 L507.72,542.30 L508.15,543.16 L508.80,544.80 L509.34,545.89 L509.69,546.40 L510.02,547.43 L510.50,550.10 L510.70,551.41 L510.87,552.55 L511.00,553.59 L511.11,554.57 L511.21,555.55 L511.29,556.57 L511.38,557.68 L511.48,558.94 L511.59,560.40 L511.73,562.10 L511.90,564.10 L512.05,565.84 L512.17,567.40 L512.26,568.80 L512.35,570.08 L512.42,571.26 L512.48,572.35 L512.54,573.40 L512.60,574.41 L512.67,575.42 L512.75,576.45 L512.84,577.52 L512.96,578.66 L513.10,579.90 L513.45,583.07 L513.65,584.60 L513.90,585.08 L514.40,585.10 L514.95,584.68 L515.36,583.55 L515.84,581.89 L516.60,579.90 L517.37,578.19 L517.91,576.99 L518.47,575.92 L519.30,574.60 L520.34,573.51 L521.02,573.25 L521.90,572.00 L522.45,570.93 L522.77,570.22 L523.00,569.43 L523.27,568.10 L523.70,565.80 L523.95,564.44 L524.15,563.27 L524.30,562.24 L524.43,561.27 L524.55,560.31 L524.67,559.30 L524.80,558.19 L524.95,556.91 L525.15,555.40 L525.40,553.60 L525.65,551.83 L525.86,550.40 L526.02,549.21 L526.17,548.20 L526.30,547.28 L526.43,546.37 L526.58,545.40 L526.74,544.29 L526.95,542.95 L527.20,541.30 L527.49,539.29 L527.70,537.75 L527.85,536.54 L527.97,535.52 L528.10,534.57 L528.28,533.55 L528.54,532.34 L528.90,530.80 L529.38,528.82 L529.72,527.43 L530.02,526.43 L530.36,525.62 L530.82,524.81 L531.50,523.80 L532.76,522.19 L533.72,521.74 L535.00,522.00 L536.14,522.59 L536.79,523.65 L537.70,525.50 L538.43,527.38 L538.86,529.20 L539.26,530.49 L539.90,530.80 L540.36,530.35 L540.64,529.51 L540.85,528.36 L541.08,526.97 L541.43,525.43 L542.00,523.80 L542.76,521.99 L543.40,520.52 L543.97,519.42 L544.55,518.74 L545.20,518.50 L545.77,518.47 L545.94,518.87 L546.04,520.41 L546.40,523.80 L546.56,525.07 L546.70,526.29 L546.83,527.47 L546.94,528.62 L547.05,529.76 L547.15,530.89 L547.25,532.03 L547.35,533.19 L547.46,534.39 L547.57,535.63 L547.70,536.93 L547.85,538.30 L548.01,539.75 L548.20,541.30 L548.49,543.75 L548.69,545.60 L548.84,546.98 L548.96,548.03 L549.09,548.90 L549.27,549.72 L549.53,550.64 L549.90,551.80 L550.86,554.06 L551.64,554.58 L552.60,554.50 L553.54,554.12 L554.30,551.80 L554.66,550.66 L554.87,549.72 L555.02,548.82 L555.21,547.81 L555.54,546.52 L556.10,544.80 L556.65,543.18 L557.13,541.74 L557.56,540.46 L557.98,539.34 L558.44,538.38 L558.97,537.57 L559.60,536.90 L560.58,536.41 L561.06,537.44 L562.20,539.60 L562.96,540.69 L563.49,541.53 L563.96,542.32 L564.52,543.29 L565.35,544.64 L566.60,546.60 L567.44,547.89 L568.16,548.99 L568.79,549.96 L569.37,550.84 L569.93,551.68 L570.50,552.54 L571.12,553.46 L571.82,554.49 L572.64,555.69 L573.60,557.10 L574.75,558.80 L575.63,560.13 L576.33,561.18 L576.91,562.06 L577.46,562.86 L578.06,563.69 L578.78,564.63 L579.70,565.80 L580.99,567.35 L581.72,568.11 L582.25,568.54 L582.93,569.08 L584.10,570.20 L585.16,571.38 L585.91,572.38 L586.52,573.24 L587.17,574.01 L588.04,574.75 L589.30,575.50 L590.80,576.12 L591.85,576.28 L592.78,576.17 L593.89,576.00 L595.50,576.00 L597.15,575.99 L598.33,575.81 L599.29,575.68 L600.30,575.81 L601.60,576.40 L602.79,577.45 L603.47,578.68 L603.90,579.90 L604.36,580.94 L605.10,581.60 L606.14,581.60 L606.66,580.55 L607.70,579.00 L608.70,577.70 L609.44,576.47 L610.18,575.63 L611.20,575.50 L612.15,576.21 L612.73,577.48 L613.22,579.06 L613.90,580.70 L614.93,582.61 L615.60,583.40 L616.22,583.47 L616.50,583.00" fill="none" stroke="#8090F8" stroke-width="2.8" stroke-linejoin="round" stroke-linecap="round"/>
<line x1="183.1" y1="89.6" x2="197.8" y2="93.0" stroke="#000" stroke-width="1"/>
<polygon points="208.5,95.4 197.0,96.2 198.5,89.7" fill="#000"/>
<line x1="241.4" y1="76.6" x2="247.6" y2="80.8" stroke="#000" stroke-width="1"/>
<polygon points="256.7,87.0 245.7,83.5 249.5,78.1" fill="#000"/>
<line x1="177.5" y1="142.8" x2="194.3" y2="146.4" stroke="#000" stroke-width="1"/>
<polygon points="205.1,148.7 193.7,149.6 195.0,143.2" fill="#000"/>
<line x1="421.3" y1="156.3" x2="410.7" y2="161.0" stroke="#000" stroke-width="1"/>
<polygon points="400.6,165.4 409.3,158.0 412.0,164.0" fill="#000"/>
<line x1="436.4" y1="162.7" x2="434.5" y2="165.1" stroke="#000" stroke-width="1"/>
<polygon points="427.6,173.7 431.9,163.0 437.0,167.2" fill="#000"/>
<line x1="448.0" y1="136.5" x2="450.5" y2="157.1" stroke="#000" stroke-width="1"/>
<polygon points="451.9,168.0 447.3,157.5 453.8,156.7" fill="#000"/>
<line x1="175.5" y1="230.1" x2="188.6" y2="233.7" stroke="#000" stroke-width="1"/>
<polygon points="199.2,236.6 187.7,236.9 189.5,230.5" fill="#000"/>
<line x1="426.6" y1="213.9" x2="416.2" y2="217.9" stroke="#000" stroke-width="1"/>
<polygon points="405.9,221.8 415.0,214.8 417.4,221.0" fill="#000"/>
<line x1="439.0" y1="224.9" x2="432.7" y2="230.2" stroke="#000" stroke-width="1"/>
<polygon points="424.2,237.2 430.6,227.6 434.8,232.7" fill="#000"/>
<line x1="463.0" y1="226.3" x2="461.0" y2="231.0" stroke="#000" stroke-width="1"/>
<polygon points="456.7,241.1 458.0,229.7 464.0,232.3" fill="#000"/>
<line x1="469.9" y1="227.3" x2="478.1" y2="235.6" stroke="#000" stroke-width="1"/>
<polygon points="485.8,243.5 475.7,238.0 480.5,233.3" fill="#000"/>
<line x1="188.4" y1="335.7" x2="198.0" y2="335.7" stroke="#000" stroke-width="1"/>
<polygon points="209.0,335.7 198.0,339.0 198.0,332.4" fill="#000"/>
<line x1="178.5" y1="369.3" x2="188.6" y2="372.2" stroke="#000" stroke-width="1"/>
<polygon points="199.2,375.3 187.7,375.4 189.6,369.1" fill="#000"/>
<line x1="429.5" y1="418.0" x2="419.2" y2="425.8" stroke="#000" stroke-width="1"/>
<polygon points="410.4,432.4 417.2,423.1 421.2,428.4" fill="#000"/>
<line x1="443.3" y1="420.5" x2="443.3" y2="426.7" stroke="#000" stroke-width="1"/>
<polygon points="443.3,437.7 440.0,426.7 446.6,426.7" fill="#000"/>
<line x1="183.4" y1="475.8" x2="190.7" y2="478.1" stroke="#000" stroke-width="1"/>
<polygon points="201.2,481.3 189.7,481.2 191.7,474.9" fill="#000"/>
<line x1="183.1" y1="543.3" x2="195.8" y2="547.4" stroke="#000" stroke-width="1"/>
<polygon points="206.3,550.8 194.8,550.6 196.8,544.3" fill="#000"/>
<rect x="77.3" y="7.2" width="539.7" height="585.4" fill="none" stroke="#000" stroke-width="2.4"/>
<line x1="77.3" y1="592.6" x2="77.3" y2="601.1" stroke="#000" stroke-width="2.2"/>
<line x1="114.8" y1="592.6" x2="114.8" y2="597.1" stroke="#000" stroke-width="2.2"/>
<line x1="152.3" y1="592.6" x2="152.3" y2="601.1" stroke="#000" stroke-width="2.2"/>
<line x1="189.8" y1="592.6" x2="189.8" y2="597.1" stroke="#000" stroke-width="2.2"/>
<line x1="227.3" y1="592.6" x2="227.3" y2="601.1" stroke="#000" stroke-width="2.2"/>
<line x1="264.8" y1="592.6" x2="264.8" y2="597.1" stroke="#000" stroke-width="2.2"/>
<line x1="302.3" y1="592.6" x2="302.3" y2="601.1" stroke="#000" stroke-width="2.2"/>
<line x1="339.8" y1="592.6" x2="339.8" y2="597.1" stroke="#000" stroke-width="2.2"/>
<line x1="377.3" y1="592.6" x2="377.3" y2="601.1" stroke="#000" stroke-width="2.2"/>
<line x1="414.8" y1="592.6" x2="414.8" y2="597.1" stroke="#000" stroke-width="2.2"/>
<line x1="452.3" y1="592.6" x2="452.3" y2="601.1" stroke="#000" stroke-width="2.2"/>
<line x1="489.8" y1="592.6" x2="489.8" y2="597.1" stroke="#000" stroke-width="2.2"/>
<line x1="527.3" y1="592.6" x2="527.3" y2="601.1" stroke="#000" stroke-width="2.2"/>
<line x1="564.8" y1="592.6" x2="564.8" y2="597.1" stroke="#000" stroke-width="2.2"/>
<line x1="602.3" y1="592.6" x2="602.3" y2="601.1" stroke="#000" stroke-width="2.2"/>
<text x="77.9" y="619" text-anchor="middle" font-family="&quot;Liberation Sans&quot;, sans-serif" font-weight="bold" font-size="16" letter-spacing="1">4000</text>
<text x="152.9" y="619" text-anchor="middle" font-family="&quot;Liberation Sans&quot;, sans-serif" font-weight="bold" font-size="16" letter-spacing="1">3500</text>
<text x="227.9" y="619" text-anchor="middle" font-family="&quot;Liberation Sans&quot;, sans-serif" font-weight="bold" font-size="16" letter-spacing="1">3000</text>
<text x="302.9" y="619" text-anchor="middle" font-family="&quot;Liberation Sans&quot;, sans-serif" font-weight="bold" font-size="16" letter-spacing="1">2500</text>
<text x="377.9" y="619" text-anchor="middle" font-family="&quot;Liberation Sans&quot;, sans-serif" font-weight="bold" font-size="16" letter-spacing="1">2000</text>
<text x="452.9" y="619" text-anchor="middle" font-family="&quot;Liberation Sans&quot;, sans-serif" font-weight="bold" font-size="16" letter-spacing="1">1500</text>
<text x="527.9" y="619" text-anchor="middle" font-family="&quot;Liberation Sans&quot;, sans-serif" font-weight="bold" font-size="16" letter-spacing="1">1000</text>
<text x="602.9" y="619" text-anchor="middle" font-family="&quot;Liberation Sans&quot;, sans-serif" font-weight="bold" font-size="16" letter-spacing="1">500</text>
<text x="82.0" y="31.3" font-family="&quot;Liberation Sans&quot;, sans-serif" font-weight="bold" font-size="16" letter-spacing="0.6">PVA</text>
<text x="83.1" y="92.0" font-family="&quot;Liberation Sans&quot;, sans-serif" font-weight="bold" font-size="16" letter-spacing="0.6">TA</text>
<text x="82.7" y="186.8" font-family="&quot;Liberation Sans&quot;, sans-serif" font-weight="bold" font-size="16" letter-spacing="0.6">CS</text>
<text x="82.1" y="245.9" font-family="&quot;Liberation Sans&quot;, sans-serif" font-weight="bold" font-size="16" letter-spacing="0.6">PVA-TA</text>
<text x="80.1" y="327.8" font-family="&quot;Liberation Sans&quot;, sans-serif" font-weight="bold" font-size="16" letter-spacing="0.6">CS/TA</text>
<text x="82.1" y="398.9" font-family="&quot;Liberation Sans&quot;, sans-serif" font-weight="bold" font-size="16" letter-spacing="0.6">PVA-CS</text>
<text x="79.7" y="472.8" font-family="&quot;Liberation Sans&quot;, sans-serif" font-weight="bold" font-size="16" letter-spacing="0.6">PVA-CS/TA</text>
<text x="210.9" y="104.5" font-family="&quot;Liberation Serif&quot;, serif" font-size="15.5" stroke="#000" stroke-width="0.35">3293</text>
<text x="250.6" y="102.8" font-family="&quot;Liberation Serif&quot;, serif" font-size="15.5" stroke="#000" stroke-width="0.35">2903</text>
<text x="208.6" y="157.0" font-family="&quot;Liberation Serif&quot;, serif" font-size="15.5" stroke="#000" stroke-width="0.35">3335</text>
<text x="374.5" y="182.6" font-family="&quot;Liberation Serif&quot;, serif" font-size="15.5" stroke="#000" stroke-width="0.35">1710</text>
<text x="409.0" y="188.5" font-family="&quot;Liberation Serif&quot;, serif" font-size="15.5" stroke="#000" stroke-width="0.35">1611</text>
<text x="444.8" y="186.1" font-family="&quot;Liberation Serif&quot;, serif" font-size="15.5" stroke="#000" stroke-width="0.35">1537</text>
<text x="207.2" y="249.2" font-family="&quot;Liberation Serif&quot;, serif" font-size="15.5" stroke="#000" stroke-width="0.35">3298</text>
<text x="375.5" y="236.8" font-family="&quot;Liberation Serif&quot;, serif" font-size="15.5" stroke="#000" stroke-width="0.35">1650</text>
<text x="397.2" y="253.3" font-family="&quot;Liberation Serif&quot;, serif" font-size="15.5" stroke="#000" stroke-width="0.35">1598</text>
<text x="433.6" y="258.4" font-family="&quot;Liberation Serif&quot;, serif" font-size="15.5" stroke="#000" stroke-width="0.35">1421</text>
<text x="472.5" y="259.4" font-family="&quot;Liberation Serif&quot;, serif" font-size="15.5" stroke="#000" stroke-width="0.35">1382</text>
<text x="209.9" y="342.6" font-family="&quot;Liberation Serif&quot;, serif" font-size="15.5" stroke="#000" stroke-width="0.35">3275</text>
<text x="208.6" y="390.4" font-family="&quot;Liberation Serif&quot;, serif" font-size="15.5" stroke="#000" stroke-width="0.35">3287</text>
<text x="383.8" y="449.5" font-family="&quot;Liberation Serif&quot;, serif" font-size="15.5" stroke="#000" stroke-width="0.35">1640</text>
<text x="420.4" y="453.5" font-family="&quot;Liberation Serif&quot;, serif" font-size="15.5" stroke="#000" stroke-width="0.35">1567</text>
<text x="205.2" y="487.2" font-family="&quot;Liberation Serif&quot;, serif" font-size="15.5" stroke="#000" stroke-width="0.35">3285</text>
<text x="206.8" y="556.3" font-family="&quot;Liberation Serif&quot;, serif" font-size="15.5" stroke="#000" stroke-width="0.35">3283</text>
<text x="235" y="655.7" font-family="&quot;Liberation Sans&quot;, sans-serif" font-weight="bold" font-size="24">Wavenumber<tspan dx="14">(cm</tspan></text>
<rect x="443.5" y="635.2" width="5.8" height="2.6" fill="#000"/>
<text x="451.5" y="643.4" font-family="&quot;Liberation Sans&quot;, sans-serif" font-weight="bold" font-size="18">1</text>
<text x="464.5" y="655.7" font-family="&quot;Liberation Sans&quot;, sans-serif" font-weight="bold" font-size="24">)</text>
<text transform="translate(41.8,413) rotate(-90)" x="0" y="0" font-family="&quot;Liberation Sans&quot;, sans-serif" font-weight="bold" font-size="24" textLength="160" lengthAdjust="spacingAndGlyphs">Transmittance</text>
<text transform="translate(41.8,239.5) rotate(-90)" x="0" y="0" font-family="&quot;Liberation Sans&quot;, sans-serif" font-weight="bold" font-size="23" letter-spacing="0.8">(a.u.)</text>
</svg></body></html>
